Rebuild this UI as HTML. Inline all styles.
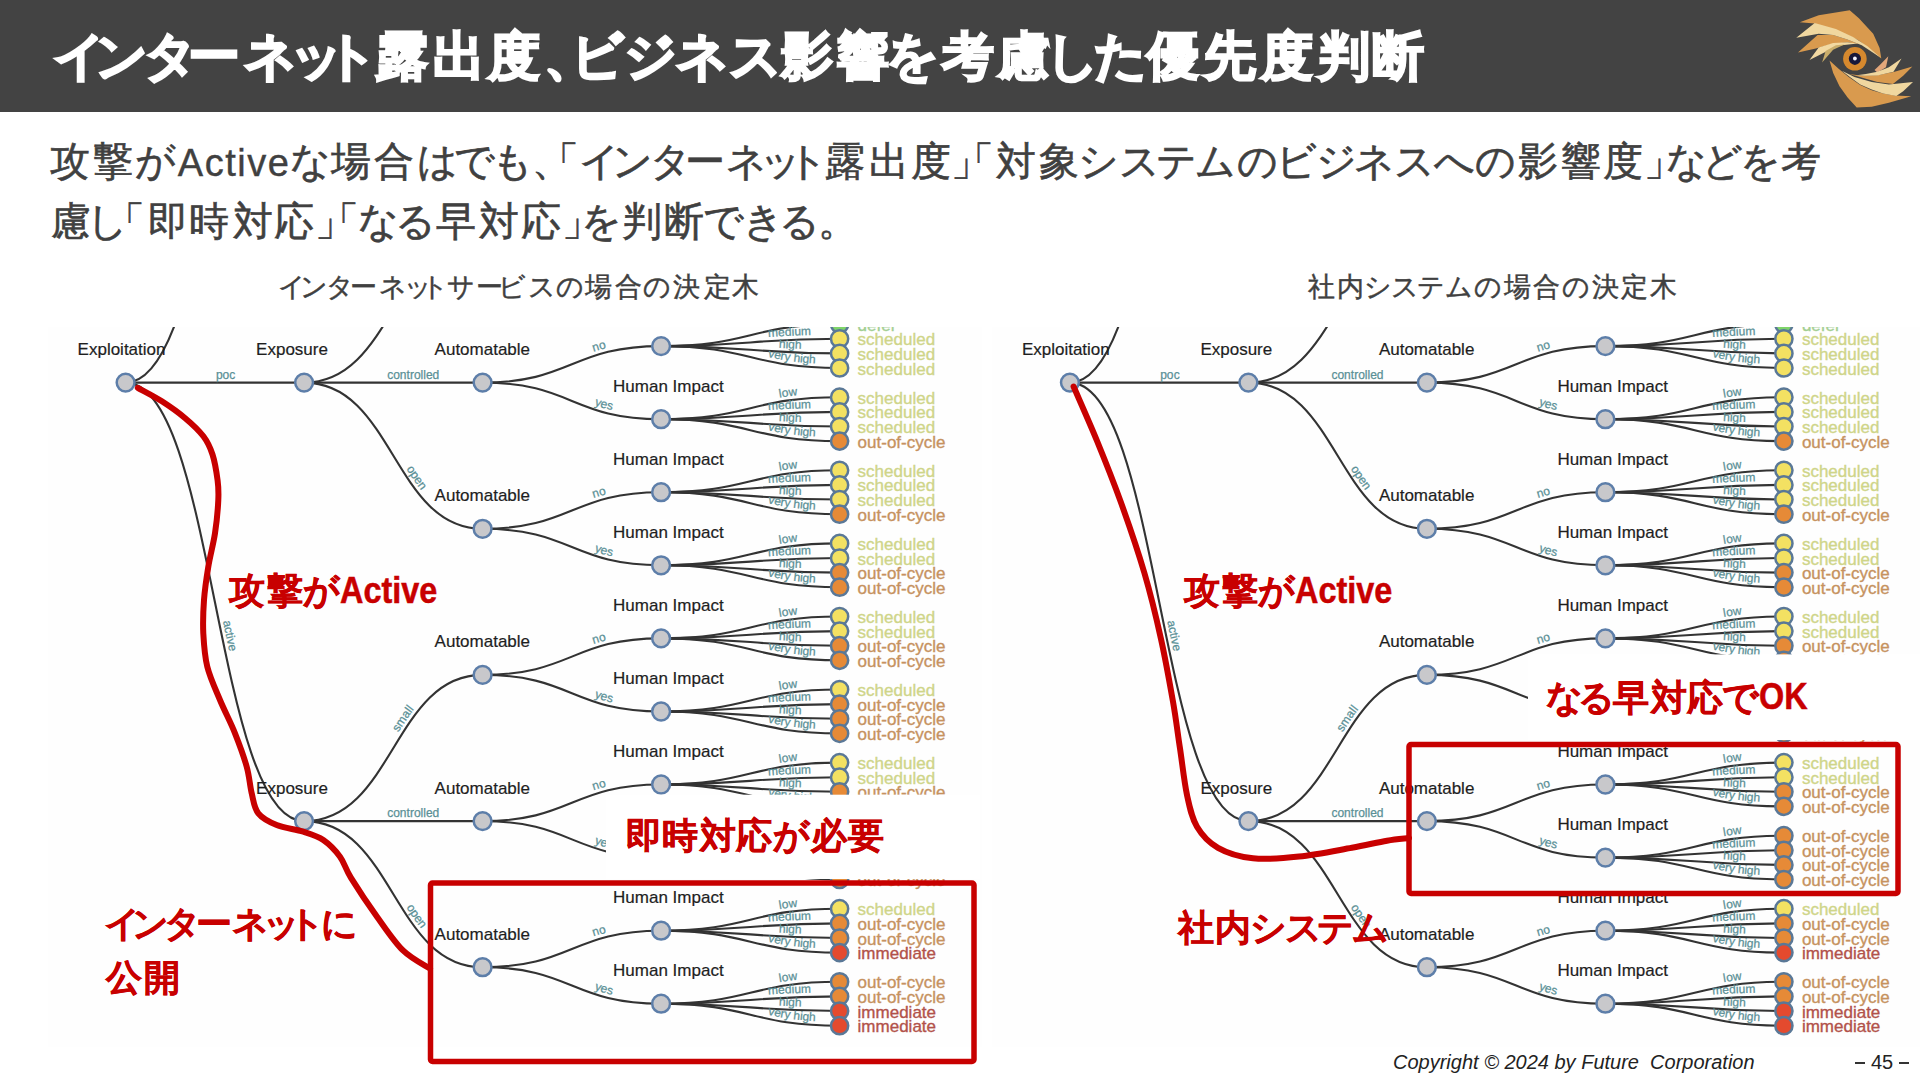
<!DOCTYPE html>
<html lang="ja"><head><meta charset="utf-8">
<style>
html,body{margin:0;padding:0}
body{width:1920px;height:1080px;overflow:hidden;position:relative;background:#fff;font-family:"Liberation Sans",sans-serif}
.hdr{position:absolute;left:0;top:0;width:1920px;height:112px;background:#434343}
.t,.c{position:absolute;white-space:nowrap;line-height:1}
.w{color:#fff}
.g{color:#404040}
.r{color:#c80000}
.foot{font-size:20px;font-style:italic;color:#222}
.dash{position:absolute;top:1062px;width:10px;height:1.6px;background:#333}
</style></head><body>
<div class="hdr"></div>
<span class="c w" style="left:52.7px;top:30.2px;font-size:52px;font-weight:bold;-webkit-text-stroke:2.2px;">イ</span>
<span class="c w" style="left:94.6px;top:30.2px;font-size:52px;font-weight:bold;-webkit-text-stroke:2.2px;">ン</span>
<span class="c w" style="left:143.7px;top:30.2px;font-size:52px;font-weight:bold;-webkit-text-stroke:2.2px;">タ</span>
<span class="c w" style="left:188.1px;top:30.2px;font-size:52px;font-weight:bold;-webkit-text-stroke:2.2px;">ー</span>
<span class="c w" style="left:244.0px;top:30.2px;font-size:52px;font-weight:bold;-webkit-text-stroke:2.2px;">ネ</span>
<span class="c w" style="left:290.4px;top:30.2px;font-size:52px;font-weight:bold;-webkit-text-stroke:2.2px;">ッ</span>
<span class="c w" style="left:324.5px;top:30.2px;font-size:52px;font-weight:bold;-webkit-text-stroke:2.2px;">ト</span>
<span class="c w" style="left:376.2px;top:30.2px;font-size:52px;font-weight:bold;-webkit-text-stroke:2.2px;">露</span>
<span class="c w" style="left:432.9px;top:30.2px;font-size:52px;font-weight:bold;-webkit-text-stroke:2.2px;">出</span>
<span class="c w" style="left:487.7px;top:30.2px;font-size:52px;font-weight:bold;-webkit-text-stroke:2.2px;">度</span>
<span class="c w" style="left:543.8px;top:30.2px;font-size:52px;font-weight:bold;-webkit-text-stroke:2.2px;">、</span>
<span class="c w" style="left:570.9px;top:30.2px;font-size:52px;font-weight:bold;-webkit-text-stroke:2.2px;">ビ</span>
<span class="c w" style="left:623.5px;top:30.2px;font-size:52px;font-weight:bold;-webkit-text-stroke:2.2px;">ジ</span>
<span class="c w" style="left:675.7px;top:30.2px;font-size:52px;font-weight:bold;-webkit-text-stroke:2.2px;">ネ</span>
<span class="c w" style="left:728.9px;top:30.2px;font-size:52px;font-weight:bold;-webkit-text-stroke:2.2px;">ス</span>
<span class="c w" style="left:781.2px;top:30.2px;font-size:52px;font-weight:bold;-webkit-text-stroke:2.2px;">影</span>
<span class="c w" style="left:837.0px;top:30.2px;font-size:52px;font-weight:bold;-webkit-text-stroke:2.2px;">響</span>
<span class="c w" style="left:886.2px;top:30.2px;font-size:52px;font-weight:bold;-webkit-text-stroke:2.2px;">を</span>
<span class="c w" style="left:941.6px;top:30.2px;font-size:52px;font-weight:bold;-webkit-text-stroke:2.2px;">考</span>
<span class="c w" style="left:998.1px;top:30.2px;font-size:52px;font-weight:bold;-webkit-text-stroke:2.2px;">慮</span>
<span class="c w" style="left:1045.8px;top:30.2px;font-size:52px;font-weight:bold;-webkit-text-stroke:2.2px;">し</span>
<span class="c w" style="left:1093.8px;top:30.2px;font-size:52px;font-weight:bold;-webkit-text-stroke:2.2px;">た</span>
<span class="c w" style="left:1146.9px;top:30.2px;font-size:52px;font-weight:bold;-webkit-text-stroke:2.2px;">優</span>
<span class="c w" style="left:1203.9px;top:30.2px;font-size:52px;font-weight:bold;-webkit-text-stroke:2.2px;">先</span>
<span class="c w" style="left:1260.7px;top:30.2px;font-size:52px;font-weight:bold;-webkit-text-stroke:2.2px;">度</span>
<span class="c w" style="left:1317.8px;top:30.2px;font-size:52px;font-weight:bold;-webkit-text-stroke:2.2px;">判</span>
<span class="c w" style="left:1372.1px;top:30.2px;font-size:52px;font-weight:bold;-webkit-text-stroke:2.2px;">断</span>
<span class="c g" style="left:50.1px;top:140.8px;font-size:40px;-webkit-text-stroke:0.6px;">攻</span>
<span class="c g" style="left:92.9px;top:140.8px;font-size:40px;-webkit-text-stroke:0.6px;">撃</span>
<span class="c g" style="left:134.6px;top:140.8px;font-size:40px;-webkit-text-stroke:0.6px;">が</span>
<span class="c g" style="left:290.2px;top:140.8px;font-size:40px;-webkit-text-stroke:0.6px;">な</span>
<span class="c g" style="left:330.9px;top:140.8px;font-size:40px;-webkit-text-stroke:0.6px;">場</span>
<span class="c g" style="left:373.9px;top:140.8px;font-size:40px;-webkit-text-stroke:0.6px;">合</span>
<span class="c g" style="left:417.2px;top:140.8px;font-size:40px;-webkit-text-stroke:0.6px;">は</span>
<span class="c g" style="left:454.0px;top:140.8px;font-size:40px;-webkit-text-stroke:0.6px;">で</span>
<span class="c g" style="left:492.4px;top:140.8px;font-size:40px;-webkit-text-stroke:0.6px;">も</span>
<span class="c g" style="left:531.5px;top:140.8px;font-size:40px;-webkit-text-stroke:0.6px;">、</span>
<span class="c g" style="left:539.1px;top:140.8px;font-size:40px;-webkit-text-stroke:0.6px;">「</span>
<span class="c g" style="left:579.1px;top:140.8px;font-size:40px;-webkit-text-stroke:0.6px;">イ</span>
<span class="c g" style="left:612.2px;top:140.8px;font-size:40px;-webkit-text-stroke:0.6px;">ン</span>
<span class="c g" style="left:649.5px;top:140.8px;font-size:40px;-webkit-text-stroke:0.6px;">タ</span>
<span class="c g" style="left:684.7px;top:140.8px;font-size:40px;-webkit-text-stroke:0.6px;">ー</span>
<span class="c g" style="left:726.2px;top:140.8px;font-size:40px;-webkit-text-stroke:0.6px;">ネ</span>
<span class="c g" style="left:760.4px;top:140.8px;font-size:40px;-webkit-text-stroke:0.6px;">ッ</span>
<span class="c g" style="left:786.9px;top:140.8px;font-size:40px;-webkit-text-stroke:0.6px;">ト</span>
<span class="c g" style="left:825.3px;top:140.8px;font-size:40px;-webkit-text-stroke:0.6px;">露</span>
<span class="c g" style="left:869.4px;top:140.8px;font-size:40px;-webkit-text-stroke:0.6px;">出</span>
<span class="c g" style="left:910.6px;top:140.8px;font-size:40px;-webkit-text-stroke:0.6px;">度</span>
<span class="c g" style="left:951.0px;top:140.8px;font-size:40px;-webkit-text-stroke:0.6px;">」</span>
<span class="c g" style="left:954.1px;top:140.8px;font-size:40px;-webkit-text-stroke:0.6px;">「</span>
<span class="c g" style="left:996.4px;top:140.8px;font-size:40px;-webkit-text-stroke:0.6px;">対</span>
<span class="c g" style="left:1039.3px;top:140.8px;font-size:40px;-webkit-text-stroke:0.6px;">象</span>
<span class="c g" style="left:1078.2px;top:140.8px;font-size:40px;-webkit-text-stroke:0.6px;">シ</span>
<span class="c g" style="left:1118.7px;top:140.8px;font-size:40px;-webkit-text-stroke:0.6px;">ス</span>
<span class="c g" style="left:1155.9px;top:140.8px;font-size:40px;-webkit-text-stroke:0.6px;">テ</span>
<span class="c g" style="left:1195.3px;top:140.8px;font-size:40px;-webkit-text-stroke:0.6px;">ム</span>
<span class="c g" style="left:1237.0px;top:140.8px;font-size:40px;-webkit-text-stroke:0.6px;">の</span>
<span class="c g" style="left:1275.5px;top:140.8px;font-size:40px;-webkit-text-stroke:0.6px;">ビ</span>
<span class="c g" style="left:1315.8px;top:140.8px;font-size:40px;-webkit-text-stroke:0.6px;">ジ</span>
<span class="c g" style="left:1354.3px;top:140.8px;font-size:40px;-webkit-text-stroke:0.6px;">ネ</span>
<span class="c g" style="left:1393.5px;top:140.8px;font-size:40px;-webkit-text-stroke:0.6px;">ス</span>
<span class="c g" style="left:1433.5px;top:140.8px;font-size:40px;-webkit-text-stroke:0.6px;">へ</span>
<span class="c g" style="left:1475.2px;top:140.8px;font-size:40px;-webkit-text-stroke:0.6px;">の</span>
<span class="c g" style="left:1518.2px;top:140.8px;font-size:40px;-webkit-text-stroke:0.6px;">影</span>
<span class="c g" style="left:1560.8px;top:140.8px;font-size:40px;-webkit-text-stroke:0.6px;">響</span>
<span class="c g" style="left:1603.3px;top:140.8px;font-size:40px;-webkit-text-stroke:0.6px;">度</span>
<span class="c g" style="left:1644.2px;top:140.8px;font-size:40px;-webkit-text-stroke:0.6px;">」</span>
<span class="c g" style="left:1665.7px;top:140.8px;font-size:40px;-webkit-text-stroke:0.6px;">な</span>
<span class="c g" style="left:1701.7px;top:140.8px;font-size:40px;-webkit-text-stroke:0.6px;">ど</span>
<span class="c g" style="left:1740.1px;top:140.8px;font-size:40px;-webkit-text-stroke:0.6px;">を</span>
<span class="c g" style="left:1780.8px;top:140.8px;font-size:40px;-webkit-text-stroke:0.6px;">考</span>
<span class="c g" style="left:177.8px;top:143.8px;font-size:38px;letter-spacing:1.5px;-webkit-text-stroke:0.4px;">Active</span>
<span class="c g" style="left:50.5px;top:201.0px;font-size:40px;-webkit-text-stroke:0.6px;">慮</span>
<span class="c g" style="left:87.3px;top:201.0px;font-size:40px;-webkit-text-stroke:0.6px;">し</span>
<span class="c g" style="left:105.2px;top:201.0px;font-size:40px;-webkit-text-stroke:0.6px;">「</span>
<span class="c g" style="left:147.5px;top:201.0px;font-size:40px;-webkit-text-stroke:0.6px;">即</span>
<span class="c g" style="left:189.4px;top:201.0px;font-size:40px;-webkit-text-stroke:0.6px;">時</span>
<span class="c g" style="left:232.9px;top:201.0px;font-size:40px;-webkit-text-stroke:0.6px;">対</span>
<span class="c g" style="left:274.2px;top:201.0px;font-size:40px;-webkit-text-stroke:0.6px;">応</span>
<span class="c g" style="left:315.4px;top:201.0px;font-size:40px;-webkit-text-stroke:0.6px;">」</span>
<span class="c g" style="left:318.6px;top:201.0px;font-size:40px;-webkit-text-stroke:0.6px;">「</span>
<span class="c g" style="left:358.1px;top:201.0px;font-size:40px;-webkit-text-stroke:0.6px;">な</span>
<span class="c g" style="left:395.1px;top:201.0px;font-size:40px;-webkit-text-stroke:0.6px;">る</span>
<span class="c g" style="left:436.1px;top:201.0px;font-size:40px;-webkit-text-stroke:0.6px;">早</span>
<span class="c g" style="left:479.1px;top:201.0px;font-size:40px;-webkit-text-stroke:0.6px;">対</span>
<span class="c g" style="left:520.5px;top:201.0px;font-size:40px;-webkit-text-stroke:0.6px;">応</span>
<span class="c g" style="left:561.6px;top:201.0px;font-size:40px;-webkit-text-stroke:0.6px;">」</span>
<span class="c g" style="left:581.0px;top:201.0px;font-size:40px;-webkit-text-stroke:0.6px;">を</span>
<span class="c g" style="left:621.5px;top:201.0px;font-size:40px;-webkit-text-stroke:0.6px;">判</span>
<span class="c g" style="left:664.2px;top:201.0px;font-size:40px;-webkit-text-stroke:0.6px;">断</span>
<span class="c g" style="left:703.0px;top:201.0px;font-size:40px;-webkit-text-stroke:0.6px;">で</span>
<span class="c g" style="left:742.7px;top:201.0px;font-size:40px;-webkit-text-stroke:0.6px;">き</span>
<span class="c g" style="left:778.7px;top:201.0px;font-size:40px;-webkit-text-stroke:0.6px;">る</span>
<span class="c g" style="left:818.3px;top:201.0px;font-size:40px;-webkit-text-stroke:0.6px;">。</span>
<span class="c g" style="left:277.8px;top:273.9px;font-size:27px;-webkit-text-stroke:0.45px;">イ</span>
<span class="c g" style="left:300.4px;top:273.9px;font-size:27px;-webkit-text-stroke:0.45px;">ン</span>
<span class="c g" style="left:325.5px;top:273.9px;font-size:27px;-webkit-text-stroke:0.45px;">タ</span>
<span class="c g" style="left:350.0px;top:273.9px;font-size:27px;-webkit-text-stroke:0.45px;">ー</span>
<span class="c g" style="left:378.6px;top:273.9px;font-size:27px;-webkit-text-stroke:0.45px;">ネ</span>
<span class="c g" style="left:403.8px;top:273.9px;font-size:27px;-webkit-text-stroke:0.45px;">ッ</span>
<span class="c g" style="left:421.3px;top:273.9px;font-size:27px;-webkit-text-stroke:0.45px;">ト</span>
<span class="c g" style="left:447.0px;top:273.9px;font-size:27px;-webkit-text-stroke:0.45px;">サ</span>
<span class="c g" style="left:475.5px;top:273.9px;font-size:27px;-webkit-text-stroke:0.45px;">ー</span>
<span class="c g" style="left:498.1px;top:273.9px;font-size:27px;-webkit-text-stroke:0.45px;">ビ</span>
<span class="c g" style="left:528.0px;top:273.9px;font-size:27px;-webkit-text-stroke:0.45px;">ス</span>
<span class="c g" style="left:555.5px;top:273.9px;font-size:27px;-webkit-text-stroke:0.45px;">の</span>
<span class="c g" style="left:585.0px;top:273.9px;font-size:27px;-webkit-text-stroke:0.45px;">場</span>
<span class="c g" style="left:615.0px;top:273.9px;font-size:27px;-webkit-text-stroke:0.45px;">合</span>
<span class="c g" style="left:643.4px;top:273.9px;font-size:27px;-webkit-text-stroke:0.45px;">の</span>
<span class="c g" style="left:673.2px;top:273.9px;font-size:27px;-webkit-text-stroke:0.45px;">決</span>
<span class="c g" style="left:704.0px;top:273.9px;font-size:27px;-webkit-text-stroke:0.45px;">定</span>
<span class="c g" style="left:731.9px;top:273.9px;font-size:27px;-webkit-text-stroke:0.45px;">木</span>
<span class="c g" style="left:1307.8px;top:273.7px;font-size:27px;-webkit-text-stroke:0.45px;">社</span>
<span class="c g" style="left:1337.0px;top:273.7px;font-size:27px;-webkit-text-stroke:0.45px;">内</span>
<span class="c g" style="left:1364.4px;top:273.7px;font-size:27px;-webkit-text-stroke:0.45px;">シ</span>
<span class="c g" style="left:1391.4px;top:273.7px;font-size:27px;-webkit-text-stroke:0.45px;">ス</span>
<span class="c g" style="left:1417.2px;top:273.7px;font-size:27px;-webkit-text-stroke:0.45px;">テ</span>
<span class="c g" style="left:1444.5px;top:273.7px;font-size:27px;-webkit-text-stroke:0.45px;">ム</span>
<span class="c g" style="left:1474.2px;top:273.7px;font-size:27px;-webkit-text-stroke:0.45px;">の</span>
<span class="c g" style="left:1503.5px;top:273.7px;font-size:27px;-webkit-text-stroke:0.45px;">場</span>
<span class="c g" style="left:1533.0px;top:273.7px;font-size:27px;-webkit-text-stroke:0.45px;">合</span>
<span class="c g" style="left:1561.5px;top:273.7px;font-size:27px;-webkit-text-stroke:0.45px;">の</span>
<span class="c g" style="left:1591.5px;top:273.7px;font-size:27px;-webkit-text-stroke:0.45px;">決</span>
<span class="c g" style="left:1621.2px;top:273.7px;font-size:27px;-webkit-text-stroke:0.45px;">定</span>
<span class="c g" style="left:1649.7px;top:273.7px;font-size:27px;-webkit-text-stroke:0.45px;">木</span>
<svg width="140" height="112" viewBox="1780 0 140 112" style="position:absolute;left:1780px;top:0">
<polygon fill="#d99a4e" points="1799.8,22.2 1818.7,15.3 1849.7,10.2 1858.9,18.2 1873.2,33.7 1879.6,48.1 1881.3,58.4 1870.4,49.8 1858.9,40.6 1847.4,34.9 1835.9,30.3 1824.4,26.8 1814.7,23.4"/>
<polygon fill="#d99a4e" points="1798.0,52.6 1817.6,34.9 1833.1,34.9 1847.4,39.4 1858.9,44.0 1847.4,42.3 1830.2,44.6 1815.8,48.6"/>
<polygon fill="#f0d79f" points="1796.3,37.7 1814.7,23.1 1835.9,29.1 1853.1,37.1 1867.5,46.3 1880.7,57.8 1861.8,45.2 1847.4,39.4 1833.1,34.9 1818.7,33.7"/>
<polygon fill="#f2d9a2" points="1809.5,60.1 1818.7,47.5 1833.1,42.9 1847.4,42.3 1857.7,43.5 1841.7,45.2 1827.3,50.9"/>
<polygon fill="#c9ad6a" points="1822.1,62.4 1825.6,50.9 1835.9,45.2 1844.5,44.6 1833.1,49.8"/>
<polygon fill="#d99a4e" points="1829.5,60.6 1833.2,73.0 1839.5,86.2 1847.6,97.6 1856.7,107.4 1871.7,106.8 1888.9,102.8 1911.3,96.2 1894.6,95.4 1883.1,93.6 1871.7,90.2 1860.2,85.0 1848.7,77.0 1838.9,68.9"/>
<polygon fill="#d99a4e" points="1848.7,74.1 1860.2,75.5 1877.4,75.3 1894.6,71.8 1912.4,66.6 1903.2,75.8 1892.9,83.9 1877.4,82.1 1865.9,78.7 1855.6,75.8"/>
<polygon fill="#e3a77a" points="1874.5,70.1 1880.3,64.4 1888.3,56.3 1886.0,67.2 1877.4,72.4"/>
<polygon fill="#f0d79f" points="1856.7,75.3 1865.9,74.1 1877.4,71.8 1888.9,67.2 1901.5,58.6 1893.5,71.8 1877.4,75.5 1864.8,75.8"/>
<polygon fill="#f0d79f" points="1841.8,70.7 1854.4,77.0 1871.7,82.1 1888.9,84.4 1913.0,82.1 1903.2,91.3 1896.3,95.9 1883.1,93.6 1871.7,89.6 1860.2,84.4 1849.9,77.0"/>
<circle cx="1854.9" cy="58.8" r="11.8" fill="#d6892e"/>
<circle cx="1854.9" cy="58.8" r="6.1" fill="#17183a"/>
<circle cx="1854.9" cy="58.5" r="1.9" fill="#f4f4ff"/>
</svg>
<svg width="1920" height="1080" viewBox="0 0 1920 1080" style="position:absolute;left:0;top:0">
<rect x="48" y="327" width="934" height="720" fill="#fefefe"/>
<rect x="992" y="327" width="928" height="720" fill="#fefefe"/>
<clipPath id="cl"><rect x="48.0" y="327.0" width="932.0" height="730.0"/></clipPath>
<g clip-path="url(#cl)">
<g fill="none" stroke="#333" stroke-width="2.1">
<path d="M125.6,382.6C214.9,382.6 214.9,-55.8 304.1,-55.8"/>
<path d="M304.1,-55.8C393.4,-55.8 393.4,-201.9 482.6,-201.9"/>
<path d="M482.6,-201.9C571.9,-201.9 571.9,-238.5 661.1,-238.5"/>
<path d="M661.1,-238.5C750.4,-238.5 750.4,-260.4 839.6,-260.4"/>
<path d="M661.1,-238.5C750.4,-238.5 750.4,-245.8 839.6,-245.8"/>
<path d="M661.1,-238.5C750.4,-238.5 750.4,-231.2 839.6,-231.2"/>
<path d="M661.1,-238.5C750.4,-238.5 750.4,-216.5 839.6,-216.5"/>
<path d="M482.6,-201.9C571.9,-201.9 571.9,-165.4 661.1,-165.4"/>
<path d="M661.1,-165.4C750.4,-165.4 750.4,-187.3 839.6,-187.3"/>
<path d="M661.1,-165.4C750.4,-165.4 750.4,-172.7 839.6,-172.7"/>
<path d="M661.1,-165.4C750.4,-165.4 750.4,-158.1 839.6,-158.1"/>
<path d="M661.1,-165.4C750.4,-165.4 750.4,-143.5 839.6,-143.5"/>
<path d="M304.1,-55.8C393.4,-55.8 393.4,-55.8 482.6,-55.8"/>
<path d="M482.6,-55.8C571.9,-55.8 571.9,-92.3 661.1,-92.3"/>
<path d="M661.1,-92.3C750.4,-92.3 750.4,-114.2 839.6,-114.2"/>
<path d="M661.1,-92.3C750.4,-92.3 750.4,-99.6 839.6,-99.6"/>
<path d="M661.1,-92.3C750.4,-92.3 750.4,-85.0 839.6,-85.0"/>
<path d="M661.1,-92.3C750.4,-92.3 750.4,-70.4 839.6,-70.4"/>
<path d="M482.6,-55.8C571.9,-55.8 571.9,-19.2 661.1,-19.2"/>
<path d="M661.1,-19.2C750.4,-19.2 750.4,-41.2 839.6,-41.2"/>
<path d="M661.1,-19.2C750.4,-19.2 750.4,-26.6 839.6,-26.6"/>
<path d="M661.1,-19.2C750.4,-19.2 750.4,-11.9 839.6,-11.9"/>
<path d="M661.1,-19.2C750.4,-19.2 750.4,2.7 839.6,2.7"/>
<path d="M304.1,-55.8C393.4,-55.8 393.4,90.4 482.6,90.4"/>
<path d="M482.6,90.4C571.9,90.4 571.9,53.8 661.1,53.8"/>
<path d="M661.1,53.8C750.4,53.8 750.4,31.9 839.6,31.9"/>
<path d="M661.1,53.8C750.4,53.8 750.4,46.5 839.6,46.5"/>
<path d="M661.1,53.8C750.4,53.8 750.4,61.1 839.6,61.1"/>
<path d="M661.1,53.8C750.4,53.8 750.4,75.7 839.6,75.7"/>
<path d="M482.6,90.4C571.9,90.4 571.9,126.9 661.1,126.9"/>
<path d="M661.1,126.9C750.4,126.9 750.4,105.0 839.6,105.0"/>
<path d="M661.1,126.9C750.4,126.9 750.4,119.6 839.6,119.6"/>
<path d="M661.1,126.9C750.4,126.9 750.4,134.2 839.6,134.2"/>
<path d="M661.1,126.9C750.4,126.9 750.4,148.8 839.6,148.8"/>
<path d="M125.6,382.6C214.9,382.6 214.9,382.6 304.1,382.6"/>
<path d="M304.1,382.6C393.4,382.6 393.4,236.5 482.6,236.5"/>
<path d="M482.6,236.5C571.9,236.5 571.9,200.0 661.1,200.0"/>
<path d="M661.1,200.0C750.4,200.0 750.4,178.0 839.6,178.0"/>
<path d="M661.1,200.0C750.4,200.0 750.4,192.7 839.6,192.7"/>
<path d="M661.1,200.0C750.4,200.0 750.4,207.3 839.6,207.3"/>
<path d="M661.1,200.0C750.4,200.0 750.4,221.9 839.6,221.9"/>
<path d="M482.6,236.5C571.9,236.5 571.9,273.0 661.1,273.0"/>
<path d="M661.1,273.0C750.4,273.0 750.4,251.1 839.6,251.1"/>
<path d="M661.1,273.0C750.4,273.0 750.4,265.7 839.6,265.7"/>
<path d="M661.1,273.0C750.4,273.0 750.4,280.3 839.6,280.3"/>
<path d="M661.1,273.0C750.4,273.0 750.4,295.0 839.6,295.0"/>
<path d="M304.1,382.6C393.4,382.6 393.4,382.6 482.6,382.6"/>
<path d="M482.6,382.6C571.9,382.6 571.9,346.1 661.1,346.1"/>
<path d="M661.1,346.1C750.4,346.1 750.4,324.2 839.6,324.2"/>
<path d="M661.1,346.1C750.4,346.1 750.4,338.8 839.6,338.8"/>
<path d="M661.1,346.1C750.4,346.1 750.4,353.4 839.6,353.4"/>
<path d="M661.1,346.1C750.4,346.1 750.4,368.0 839.6,368.0"/>
<path d="M482.6,382.6C571.9,382.6 571.9,419.2 661.1,419.2"/>
<path d="M661.1,419.2C750.4,419.2 750.4,397.2 839.6,397.2"/>
<path d="M661.1,419.2C750.4,419.2 750.4,411.9 839.6,411.9"/>
<path d="M661.1,419.2C750.4,419.2 750.4,426.5 839.6,426.5"/>
<path d="M661.1,419.2C750.4,419.2 750.4,441.1 839.6,441.1"/>
<path d="M304.1,382.6C393.4,382.6 393.4,528.8 482.6,528.8"/>
<path d="M482.6,528.8C571.9,528.8 571.9,492.2 661.1,492.2"/>
<path d="M661.1,492.2C750.4,492.2 750.4,470.3 839.6,470.3"/>
<path d="M661.1,492.2C750.4,492.2 750.4,484.9 839.6,484.9"/>
<path d="M661.1,492.2C750.4,492.2 750.4,499.5 839.6,499.5"/>
<path d="M661.1,492.2C750.4,492.2 750.4,514.2 839.6,514.2"/>
<path d="M482.6,528.8C571.9,528.8 571.9,565.3 661.1,565.3"/>
<path d="M661.1,565.3C750.4,565.3 750.4,543.4 839.6,543.4"/>
<path d="M661.1,565.3C750.4,565.3 750.4,558.0 839.6,558.0"/>
<path d="M661.1,565.3C750.4,565.3 750.4,572.6 839.6,572.6"/>
<path d="M661.1,565.3C750.4,565.3 750.4,587.2 839.6,587.2"/>
<path d="M125.6,382.6C214.9,382.6 214.9,821.1 304.1,821.1"/>
<path d="M304.1,821.1C393.4,821.1 393.4,674.9 482.6,674.9"/>
<path d="M482.6,674.9C571.9,674.9 571.9,638.4 661.1,638.4"/>
<path d="M661.1,638.4C750.4,638.4 750.4,616.5 839.6,616.5"/>
<path d="M661.1,638.4C750.4,638.4 750.4,631.1 839.6,631.1"/>
<path d="M661.1,638.4C750.4,638.4 750.4,645.7 839.6,645.7"/>
<path d="M661.1,638.4C750.4,638.4 750.4,660.3 839.6,660.3"/>
<path d="M482.6,674.9C571.9,674.9 571.9,711.5 661.1,711.5"/>
<path d="M661.1,711.5C750.4,711.5 750.4,689.5 839.6,689.5"/>
<path d="M661.1,711.5C750.4,711.5 750.4,704.1 839.6,704.1"/>
<path d="M661.1,711.5C750.4,711.5 750.4,718.8 839.6,718.8"/>
<path d="M661.1,711.5C750.4,711.5 750.4,733.4 839.6,733.4"/>
<path d="M304.1,821.1C393.4,821.1 393.4,821.1 482.6,821.1"/>
<path d="M482.6,821.1C571.9,821.1 571.9,784.5 661.1,784.5"/>
<path d="M661.1,784.5C750.4,784.5 750.4,762.6 839.6,762.6"/>
<path d="M661.1,784.5C750.4,784.5 750.4,777.2 839.6,777.2"/>
<path d="M661.1,784.5C750.4,784.5 750.4,791.8 839.6,791.8"/>
<path d="M661.1,784.5C750.4,784.5 750.4,806.4 839.6,806.4"/>
<path d="M482.6,821.1C571.9,821.1 571.9,857.6 661.1,857.6"/>
<path d="M661.1,857.6C750.4,857.6 750.4,835.7 839.6,835.7"/>
<path d="M661.1,857.6C750.4,857.6 750.4,850.3 839.6,850.3"/>
<path d="M661.1,857.6C750.4,857.6 750.4,864.9 839.6,864.9"/>
<path d="M661.1,857.6C750.4,857.6 750.4,879.5 839.6,879.5"/>
<path d="M304.1,821.1C393.4,821.1 393.4,967.2 482.6,967.2"/>
<path d="M482.6,967.2C571.9,967.2 571.9,930.7 661.1,930.7"/>
<path d="M661.1,930.7C750.4,930.7 750.4,908.7 839.6,908.7"/>
<path d="M661.1,930.7C750.4,930.7 750.4,923.4 839.6,923.4"/>
<path d="M661.1,930.7C750.4,930.7 750.4,938.0 839.6,938.0"/>
<path d="M661.1,930.7C750.4,930.7 750.4,952.6 839.6,952.6"/>
<path d="M482.6,967.2C571.9,967.2 571.9,1003.7 661.1,1003.7"/>
<path d="M661.1,1003.7C750.4,1003.7 750.4,981.8 839.6,981.8"/>
<path d="M661.1,1003.7C750.4,1003.7 750.4,996.4 839.6,996.4"/>
<path d="M661.1,1003.7C750.4,1003.7 750.4,1011.0 839.6,1011.0"/>
<path d="M661.1,1003.7C750.4,1003.7 750.4,1025.7 839.6,1025.7"/>
</g>
<defs>
<path id="p1" d="M304.1,-55.8C393.4,-55.8 393.4,-201.9 482.6,-201.9"/>
<path id="p2" d="M482.6,-201.9C571.9,-201.9 571.9,-238.5 661.1,-238.5"/>
<path id="p3" d="M661.1,-238.5C750.4,-238.5 750.4,-260.4 839.6,-260.4"/>
<path id="p4" d="M661.1,-238.5C750.4,-238.5 750.4,-245.8 839.6,-245.8"/>
<path id="p5" d="M661.1,-238.5C750.4,-238.5 750.4,-231.2 839.6,-231.2"/>
<path id="p6" d="M661.1,-238.5C750.4,-238.5 750.4,-216.5 839.6,-216.5"/>
<path id="p7" d="M482.6,-201.9C571.9,-201.9 571.9,-165.4 661.1,-165.4"/>
<path id="p8" d="M661.1,-165.4C750.4,-165.4 750.4,-187.3 839.6,-187.3"/>
<path id="p9" d="M661.1,-165.4C750.4,-165.4 750.4,-172.7 839.6,-172.7"/>
<path id="p10" d="M661.1,-165.4C750.4,-165.4 750.4,-158.1 839.6,-158.1"/>
<path id="p11" d="M661.1,-165.4C750.4,-165.4 750.4,-143.5 839.6,-143.5"/>
<path id="p12" d="M304.1,-55.8C393.4,-55.8 393.4,-55.8 482.6,-55.8"/>
<path id="p13" d="M482.6,-55.8C571.9,-55.8 571.9,-92.3 661.1,-92.3"/>
<path id="p14" d="M661.1,-92.3C750.4,-92.3 750.4,-114.2 839.6,-114.2"/>
<path id="p15" d="M661.1,-92.3C750.4,-92.3 750.4,-99.6 839.6,-99.6"/>
<path id="p16" d="M661.1,-92.3C750.4,-92.3 750.4,-85.0 839.6,-85.0"/>
<path id="p17" d="M661.1,-92.3C750.4,-92.3 750.4,-70.4 839.6,-70.4"/>
<path id="p18" d="M482.6,-55.8C571.9,-55.8 571.9,-19.2 661.1,-19.2"/>
<path id="p19" d="M661.1,-19.2C750.4,-19.2 750.4,-41.2 839.6,-41.2"/>
<path id="p20" d="M661.1,-19.2C750.4,-19.2 750.4,-26.6 839.6,-26.6"/>
<path id="p21" d="M661.1,-19.2C750.4,-19.2 750.4,-11.9 839.6,-11.9"/>
<path id="p22" d="M661.1,-19.2C750.4,-19.2 750.4,2.7 839.6,2.7"/>
<path id="p23" d="M304.1,-55.8C393.4,-55.8 393.4,90.4 482.6,90.4"/>
<path id="p24" d="M482.6,90.4C571.9,90.4 571.9,53.8 661.1,53.8"/>
<path id="p25" d="M661.1,53.8C750.4,53.8 750.4,31.9 839.6,31.9"/>
<path id="p26" d="M661.1,53.8C750.4,53.8 750.4,46.5 839.6,46.5"/>
<path id="p27" d="M661.1,53.8C750.4,53.8 750.4,61.1 839.6,61.1"/>
<path id="p28" d="M661.1,53.8C750.4,53.8 750.4,75.7 839.6,75.7"/>
<path id="p29" d="M482.6,90.4C571.9,90.4 571.9,126.9 661.1,126.9"/>
<path id="p30" d="M661.1,126.9C750.4,126.9 750.4,105.0 839.6,105.0"/>
<path id="p31" d="M661.1,126.9C750.4,126.9 750.4,119.6 839.6,119.6"/>
<path id="p32" d="M661.1,126.9C750.4,126.9 750.4,134.2 839.6,134.2"/>
<path id="p33" d="M661.1,126.9C750.4,126.9 750.4,148.8 839.6,148.8"/>
<path id="p34" d="M125.6,382.6C214.9,382.6 214.9,382.6 304.1,382.6"/>
<path id="p35" d="M304.1,382.6C393.4,382.6 393.4,236.5 482.6,236.5"/>
<path id="p36" d="M482.6,236.5C571.9,236.5 571.9,200.0 661.1,200.0"/>
<path id="p37" d="M661.1,200.0C750.4,200.0 750.4,178.0 839.6,178.0"/>
<path id="p38" d="M661.1,200.0C750.4,200.0 750.4,192.7 839.6,192.7"/>
<path id="p39" d="M661.1,200.0C750.4,200.0 750.4,207.3 839.6,207.3"/>
<path id="p40" d="M661.1,200.0C750.4,200.0 750.4,221.9 839.6,221.9"/>
<path id="p41" d="M482.6,236.5C571.9,236.5 571.9,273.0 661.1,273.0"/>
<path id="p42" d="M661.1,273.0C750.4,273.0 750.4,251.1 839.6,251.1"/>
<path id="p43" d="M661.1,273.0C750.4,273.0 750.4,265.7 839.6,265.7"/>
<path id="p44" d="M661.1,273.0C750.4,273.0 750.4,280.3 839.6,280.3"/>
<path id="p45" d="M661.1,273.0C750.4,273.0 750.4,295.0 839.6,295.0"/>
<path id="p46" d="M304.1,382.6C393.4,382.6 393.4,382.6 482.6,382.6"/>
<path id="p47" d="M482.6,382.6C571.9,382.6 571.9,346.1 661.1,346.1"/>
<path id="p48" d="M661.1,346.1C750.4,346.1 750.4,324.2 839.6,324.2"/>
<path id="p49" d="M661.1,346.1C750.4,346.1 750.4,338.8 839.6,338.8"/>
<path id="p50" d="M661.1,346.1C750.4,346.1 750.4,353.4 839.6,353.4"/>
<path id="p51" d="M661.1,346.1C750.4,346.1 750.4,368.0 839.6,368.0"/>
<path id="p52" d="M482.6,382.6C571.9,382.6 571.9,419.2 661.1,419.2"/>
<path id="p53" d="M661.1,419.2C750.4,419.2 750.4,397.2 839.6,397.2"/>
<path id="p54" d="M661.1,419.2C750.4,419.2 750.4,411.9 839.6,411.9"/>
<path id="p55" d="M661.1,419.2C750.4,419.2 750.4,426.5 839.6,426.5"/>
<path id="p56" d="M661.1,419.2C750.4,419.2 750.4,441.1 839.6,441.1"/>
<path id="p57" d="M304.1,382.6C393.4,382.6 393.4,528.8 482.6,528.8"/>
<path id="p58" d="M482.6,528.8C571.9,528.8 571.9,492.2 661.1,492.2"/>
<path id="p59" d="M661.1,492.2C750.4,492.2 750.4,470.3 839.6,470.3"/>
<path id="p60" d="M661.1,492.2C750.4,492.2 750.4,484.9 839.6,484.9"/>
<path id="p61" d="M661.1,492.2C750.4,492.2 750.4,499.5 839.6,499.5"/>
<path id="p62" d="M661.1,492.2C750.4,492.2 750.4,514.2 839.6,514.2"/>
<path id="p63" d="M482.6,528.8C571.9,528.8 571.9,565.3 661.1,565.3"/>
<path id="p64" d="M661.1,565.3C750.4,565.3 750.4,543.4 839.6,543.4"/>
<path id="p65" d="M661.1,565.3C750.4,565.3 750.4,558.0 839.6,558.0"/>
<path id="p66" d="M661.1,565.3C750.4,565.3 750.4,572.6 839.6,572.6"/>
<path id="p67" d="M661.1,565.3C750.4,565.3 750.4,587.2 839.6,587.2"/>
<path id="p68" d="M125.6,382.6C214.9,382.6 214.9,821.1 304.1,821.1"/>
<path id="p69" d="M304.1,821.1C393.4,821.1 393.4,674.9 482.6,674.9"/>
<path id="p70" d="M482.6,674.9C571.9,674.9 571.9,638.4 661.1,638.4"/>
<path id="p71" d="M661.1,638.4C750.4,638.4 750.4,616.5 839.6,616.5"/>
<path id="p72" d="M661.1,638.4C750.4,638.4 750.4,631.1 839.6,631.1"/>
<path id="p73" d="M661.1,638.4C750.4,638.4 750.4,645.7 839.6,645.7"/>
<path id="p74" d="M661.1,638.4C750.4,638.4 750.4,660.3 839.6,660.3"/>
<path id="p75" d="M482.6,674.9C571.9,674.9 571.9,711.5 661.1,711.5"/>
<path id="p76" d="M661.1,711.5C750.4,711.5 750.4,689.5 839.6,689.5"/>
<path id="p77" d="M661.1,711.5C750.4,711.5 750.4,704.1 839.6,704.1"/>
<path id="p78" d="M661.1,711.5C750.4,711.5 750.4,718.8 839.6,718.8"/>
<path id="p79" d="M661.1,711.5C750.4,711.5 750.4,733.4 839.6,733.4"/>
<path id="p80" d="M304.1,821.1C393.4,821.1 393.4,821.1 482.6,821.1"/>
<path id="p81" d="M482.6,821.1C571.9,821.1 571.9,784.5 661.1,784.5"/>
<path id="p82" d="M661.1,784.5C750.4,784.5 750.4,762.6 839.6,762.6"/>
<path id="p83" d="M661.1,784.5C750.4,784.5 750.4,777.2 839.6,777.2"/>
<path id="p84" d="M661.1,784.5C750.4,784.5 750.4,791.8 839.6,791.8"/>
<path id="p85" d="M661.1,784.5C750.4,784.5 750.4,806.4 839.6,806.4"/>
<path id="p86" d="M482.6,821.1C571.9,821.1 571.9,857.6 661.1,857.6"/>
<path id="p87" d="M661.1,857.6C750.4,857.6 750.4,835.7 839.6,835.7"/>
<path id="p88" d="M661.1,857.6C750.4,857.6 750.4,850.3 839.6,850.3"/>
<path id="p89" d="M661.1,857.6C750.4,857.6 750.4,864.9 839.6,864.9"/>
<path id="p90" d="M661.1,857.6C750.4,857.6 750.4,879.5 839.6,879.5"/>
<path id="p91" d="M304.1,821.1C393.4,821.1 393.4,967.2 482.6,967.2"/>
<path id="p92" d="M482.6,967.2C571.9,967.2 571.9,930.7 661.1,930.7"/>
<path id="p93" d="M661.1,930.7C750.4,930.7 750.4,908.7 839.6,908.7"/>
<path id="p94" d="M661.1,930.7C750.4,930.7 750.4,923.4 839.6,923.4"/>
<path id="p95" d="M661.1,930.7C750.4,930.7 750.4,938.0 839.6,938.0"/>
<path id="p96" d="M661.1,930.7C750.4,930.7 750.4,952.6 839.6,952.6"/>
<path id="p97" d="M482.6,967.2C571.9,967.2 571.9,1003.7 661.1,1003.7"/>
<path id="p98" d="M661.1,1003.7C750.4,1003.7 750.4,981.8 839.6,981.8"/>
<path id="p99" d="M661.1,1003.7C750.4,1003.7 750.4,996.4 839.6,996.4"/>
<path id="p100" d="M661.1,1003.7C750.4,1003.7 750.4,1011.0 839.6,1011.0"/>
<path id="p101" d="M661.1,1003.7C750.4,1003.7 750.4,1025.7 839.6,1025.7"/>
</defs>
<g font-family="Liberation Sans, sans-serif" font-size="12" fill="#5a9096" stroke="#5a9096" stroke-width="0.25">
<text dy="-4"><textPath href="#p1" startOffset="150.9" text-anchor="middle">small</textPath></text>
<text dy="-4"><textPath href="#p2" startOffset="123.1" text-anchor="middle">no</textPath></text>
<text dy="-4"><textPath href="#p3" startOffset="129.9" text-anchor="middle">low</textPath></text>
<text dy="-4"><textPath href="#p4" startOffset="129.1" text-anchor="middle">medium</textPath></text>
<text dy="-4"><textPath href="#p5" startOffset="129.1" text-anchor="middle">high</textPath></text>
<text dy="-4"><textPath href="#p6" startOffset="131.8" text-anchor="middle">very high</textPath></text>
<text dy="-4"><textPath href="#p7" startOffset="123.9" text-anchor="middle">yes</textPath></text>
<text dy="-4"><textPath href="#p8" startOffset="129.9" text-anchor="middle">low</textPath></text>
<text dy="-4"><textPath href="#p9" startOffset="129.1" text-anchor="middle">medium</textPath></text>
<text dy="-4"><textPath href="#p10" startOffset="129.1" text-anchor="middle">high</textPath></text>
<text dy="-4"><textPath href="#p11" startOffset="131.8" text-anchor="middle">very high</textPath></text>
<text dy="-4"><textPath href="#p12" startOffset="109.2" text-anchor="middle">controlled</textPath></text>
<text dy="-4"><textPath href="#p13" startOffset="123.1" text-anchor="middle">no</textPath></text>
<text dy="-4"><textPath href="#p14" startOffset="129.9" text-anchor="middle">low</textPath></text>
<text dy="-4"><textPath href="#p15" startOffset="129.1" text-anchor="middle">medium</textPath></text>
<text dy="-4"><textPath href="#p16" startOffset="129.1" text-anchor="middle">high</textPath></text>
<text dy="-4"><textPath href="#p17" startOffset="131.8" text-anchor="middle">very high</textPath></text>
<text dy="-4"><textPath href="#p18" startOffset="123.9" text-anchor="middle">yes</textPath></text>
<text dy="-4"><textPath href="#p19" startOffset="129.9" text-anchor="middle">low</textPath></text>
<text dy="-4"><textPath href="#p20" startOffset="129.1" text-anchor="middle">medium</textPath></text>
<text dy="-4"><textPath href="#p21" startOffset="129.1" text-anchor="middle">high</textPath></text>
<text dy="-4"><textPath href="#p22" startOffset="131.8" text-anchor="middle">very high</textPath></text>
<text dy="-4"><textPath href="#p23" startOffset="152.6" text-anchor="middle">open</textPath></text>
<text dy="-4"><textPath href="#p24" startOffset="123.1" text-anchor="middle">no</textPath></text>
<text dy="-4"><textPath href="#p25" startOffset="129.9" text-anchor="middle">low</textPath></text>
<text dy="-4"><textPath href="#p26" startOffset="129.1" text-anchor="middle">medium</textPath></text>
<text dy="-4"><textPath href="#p27" startOffset="129.1" text-anchor="middle">high</textPath></text>
<text dy="-4"><textPath href="#p28" startOffset="131.8" text-anchor="middle">very high</textPath></text>
<text dy="-4"><textPath href="#p29" startOffset="123.9" text-anchor="middle">yes</textPath></text>
<text dy="-4"><textPath href="#p30" startOffset="129.9" text-anchor="middle">low</textPath></text>
<text dy="-4"><textPath href="#p31" startOffset="129.1" text-anchor="middle">medium</textPath></text>
<text dy="-4"><textPath href="#p32" startOffset="129.1" text-anchor="middle">high</textPath></text>
<text dy="-4"><textPath href="#p33" startOffset="131.8" text-anchor="middle">very high</textPath></text>
<text dy="-4"><textPath href="#p34" startOffset="100.1" text-anchor="middle">poc</textPath></text>
<text dy="-4"><textPath href="#p35" startOffset="150.9" text-anchor="middle">small</textPath></text>
<text dy="-4"><textPath href="#p36" startOffset="123.1" text-anchor="middle">no</textPath></text>
<text dy="-4"><textPath href="#p37" startOffset="129.9" text-anchor="middle">low</textPath></text>
<text dy="-4"><textPath href="#p38" startOffset="129.1" text-anchor="middle">medium</textPath></text>
<text dy="-4"><textPath href="#p39" startOffset="129.1" text-anchor="middle">high</textPath></text>
<text dy="-4"><textPath href="#p40" startOffset="131.8" text-anchor="middle">very high</textPath></text>
<text dy="-4"><textPath href="#p41" startOffset="123.9" text-anchor="middle">yes</textPath></text>
<text dy="-4"><textPath href="#p42" startOffset="129.9" text-anchor="middle">low</textPath></text>
<text dy="-4"><textPath href="#p43" startOffset="129.1" text-anchor="middle">medium</textPath></text>
<text dy="-4"><textPath href="#p44" startOffset="129.1" text-anchor="middle">high</textPath></text>
<text dy="-4"><textPath href="#p45" startOffset="131.8" text-anchor="middle">very high</textPath></text>
<text dy="-4"><textPath href="#p46" startOffset="109.2" text-anchor="middle">controlled</textPath></text>
<text dy="-4"><textPath href="#p47" startOffset="123.1" text-anchor="middle">no</textPath></text>
<text dy="-4"><textPath href="#p48" startOffset="129.9" text-anchor="middle">low</textPath></text>
<text dy="-4"><textPath href="#p49" startOffset="129.1" text-anchor="middle">medium</textPath></text>
<text dy="-4"><textPath href="#p50" startOffset="129.1" text-anchor="middle">high</textPath></text>
<text dy="-4"><textPath href="#p51" startOffset="131.8" text-anchor="middle">very high</textPath></text>
<text dy="-4"><textPath href="#p52" startOffset="123.9" text-anchor="middle">yes</textPath></text>
<text dy="-4"><textPath href="#p53" startOffset="129.9" text-anchor="middle">low</textPath></text>
<text dy="-4"><textPath href="#p54" startOffset="129.1" text-anchor="middle">medium</textPath></text>
<text dy="-4"><textPath href="#p55" startOffset="129.1" text-anchor="middle">high</textPath></text>
<text dy="-4"><textPath href="#p56" startOffset="131.8" text-anchor="middle">very high</textPath></text>
<text dy="-4"><textPath href="#p57" startOffset="152.6" text-anchor="middle">open</textPath></text>
<text dy="-4"><textPath href="#p58" startOffset="123.1" text-anchor="middle">no</textPath></text>
<text dy="-4"><textPath href="#p59" startOffset="129.9" text-anchor="middle">low</textPath></text>
<text dy="-4"><textPath href="#p60" startOffset="129.1" text-anchor="middle">medium</textPath></text>
<text dy="-4"><textPath href="#p61" startOffset="129.1" text-anchor="middle">high</textPath></text>
<text dy="-4"><textPath href="#p62" startOffset="131.8" text-anchor="middle">very high</textPath></text>
<text dy="-4"><textPath href="#p63" startOffset="123.9" text-anchor="middle">yes</textPath></text>
<text dy="-4"><textPath href="#p64" startOffset="129.9" text-anchor="middle">low</textPath></text>
<text dy="-4"><textPath href="#p65" startOffset="129.1" text-anchor="middle">medium</textPath></text>
<text dy="-4"><textPath href="#p66" startOffset="129.1" text-anchor="middle">high</textPath></text>
<text dy="-4"><textPath href="#p67" startOffset="131.8" text-anchor="middle">very high</textPath></text>
<text dy="-4"><textPath href="#p68" startOffset="282.8" text-anchor="middle">active</textPath></text>
<text dy="-4"><textPath href="#p69" startOffset="150.9" text-anchor="middle">small</textPath></text>
<text dy="-4"><textPath href="#p70" startOffset="123.1" text-anchor="middle">no</textPath></text>
<text dy="-4"><textPath href="#p71" startOffset="129.9" text-anchor="middle">low</textPath></text>
<text dy="-4"><textPath href="#p72" startOffset="129.1" text-anchor="middle">medium</textPath></text>
<text dy="-4"><textPath href="#p73" startOffset="129.1" text-anchor="middle">high</textPath></text>
<text dy="-4"><textPath href="#p74" startOffset="131.8" text-anchor="middle">very high</textPath></text>
<text dy="-4"><textPath href="#p75" startOffset="123.9" text-anchor="middle">yes</textPath></text>
<text dy="-4"><textPath href="#p76" startOffset="129.9" text-anchor="middle">low</textPath></text>
<text dy="-4"><textPath href="#p77" startOffset="129.1" text-anchor="middle">medium</textPath></text>
<text dy="-4"><textPath href="#p78" startOffset="129.1" text-anchor="middle">high</textPath></text>
<text dy="-4"><textPath href="#p79" startOffset="131.8" text-anchor="middle">very high</textPath></text>
<text dy="-4"><textPath href="#p80" startOffset="109.2" text-anchor="middle">controlled</textPath></text>
<text dy="-4"><textPath href="#p81" startOffset="123.1" text-anchor="middle">no</textPath></text>
<text dy="-4"><textPath href="#p82" startOffset="129.9" text-anchor="middle">low</textPath></text>
<text dy="-4"><textPath href="#p83" startOffset="129.1" text-anchor="middle">medium</textPath></text>
<text dy="-4"><textPath href="#p84" startOffset="129.1" text-anchor="middle">high</textPath></text>
<text dy="-4"><textPath href="#p85" startOffset="131.8" text-anchor="middle">very high</textPath></text>
<text dy="-4"><textPath href="#p86" startOffset="123.9" text-anchor="middle">yes</textPath></text>
<text dy="-4"><textPath href="#p87" startOffset="129.9" text-anchor="middle">low</textPath></text>
<text dy="-4"><textPath href="#p88" startOffset="129.1" text-anchor="middle">medium</textPath></text>
<text dy="-4"><textPath href="#p89" startOffset="129.1" text-anchor="middle">high</textPath></text>
<text dy="-4"><textPath href="#p90" startOffset="131.8" text-anchor="middle">very high</textPath></text>
<text dy="-4"><textPath href="#p91" startOffset="152.6" text-anchor="middle">open</textPath></text>
<text dy="-4"><textPath href="#p92" startOffset="123.1" text-anchor="middle">no</textPath></text>
<text dy="-4"><textPath href="#p93" startOffset="129.9" text-anchor="middle">low</textPath></text>
<text dy="-4"><textPath href="#p94" startOffset="129.1" text-anchor="middle">medium</textPath></text>
<text dy="-4"><textPath href="#p95" startOffset="129.1" text-anchor="middle">high</textPath></text>
<text dy="-4"><textPath href="#p96" startOffset="131.8" text-anchor="middle">very high</textPath></text>
<text dy="-4"><textPath href="#p97" startOffset="123.9" text-anchor="middle">yes</textPath></text>
<text dy="-4"><textPath href="#p98" startOffset="129.9" text-anchor="middle">low</textPath></text>
<text dy="-4"><textPath href="#p99" startOffset="129.1" text-anchor="middle">medium</textPath></text>
<text dy="-4"><textPath href="#p100" startOffset="129.1" text-anchor="middle">high</textPath></text>
<text dy="-4"><textPath href="#p101" startOffset="131.8" text-anchor="middle">very high</textPath></text>
</g>
<g font-family="Liberation Sans, sans-serif" font-size="17" fill="#1e1e1e" stroke="#1e1e1e" stroke-width="0.2">
<text x="77.6" y="355.1">Exploitation</text>
<text x="256.1" y="-83.3">Exposure</text>
<text x="434.6" y="-229.4">Automatable</text>
<text x="613.1" y="-266.0">Human Impact</text>
<text x="613.1" y="-192.9">Human Impact</text>
<text x="434.6" y="-83.3">Automatable</text>
<text x="613.1" y="-119.8">Human Impact</text>
<text x="613.1" y="-46.8">Human Impact</text>
<text x="434.6" y="62.9">Automatable</text>
<text x="613.1" y="26.3">Human Impact</text>
<text x="613.1" y="99.4">Human Impact</text>
<text x="256.1" y="355.1">Exposure</text>
<text x="434.6" y="209.0">Automatable</text>
<text x="613.1" y="172.5">Human Impact</text>
<text x="613.1" y="245.5">Human Impact</text>
<text x="434.6" y="355.1">Automatable</text>
<text x="613.1" y="318.6">Human Impact</text>
<text x="613.1" y="391.7">Human Impact</text>
<text x="434.6" y="501.3">Automatable</text>
<text x="613.1" y="464.7">Human Impact</text>
<text x="613.1" y="537.8">Human Impact</text>
<text x="256.1" y="793.6">Exposure</text>
<text x="434.6" y="647.4">Automatable</text>
<text x="613.1" y="610.9">Human Impact</text>
<text x="613.1" y="684.0">Human Impact</text>
<text x="434.6" y="793.6">Automatable</text>
<text x="613.1" y="757.0">Human Impact</text>
<text x="613.1" y="830.1">Human Impact</text>
<text x="434.6" y="939.7">Automatable</text>
<text x="613.1" y="903.2">Human Impact</text>
<text x="613.1" y="976.2">Human Impact</text>
</g>
<g fill="#c8c8cb" stroke="#5d7ea9" stroke-width="2.5">
<circle cx="125.6" cy="382.6" r="8.9"/>
<circle cx="304.1" cy="-55.8" r="8.9"/>
<circle cx="482.6" cy="-201.9" r="8.9"/>
<circle cx="661.1" cy="-238.5" r="8.9"/>
<circle cx="661.1" cy="-165.4" r="8.9"/>
<circle cx="482.6" cy="-55.8" r="8.9"/>
<circle cx="661.1" cy="-92.3" r="8.9"/>
<circle cx="661.1" cy="-19.2" r="8.9"/>
<circle cx="482.6" cy="90.4" r="8.9"/>
<circle cx="661.1" cy="53.8" r="8.9"/>
<circle cx="661.1" cy="126.9" r="8.9"/>
<circle cx="304.1" cy="382.6" r="8.9"/>
<circle cx="482.6" cy="236.5" r="8.9"/>
<circle cx="661.1" cy="200.0" r="8.9"/>
<circle cx="661.1" cy="273.0" r="8.9"/>
<circle cx="482.6" cy="382.6" r="8.9"/>
<circle cx="661.1" cy="346.1" r="8.9"/>
<circle cx="661.1" cy="419.2" r="8.9"/>
<circle cx="482.6" cy="528.8" r="8.9"/>
<circle cx="661.1" cy="492.2" r="8.9"/>
<circle cx="661.1" cy="565.3" r="8.9"/>
<circle cx="304.1" cy="821.1" r="8.9"/>
<circle cx="482.6" cy="674.9" r="8.9"/>
<circle cx="661.1" cy="638.4" r="8.9"/>
<circle cx="661.1" cy="711.5" r="8.9"/>
<circle cx="482.6" cy="821.1" r="8.9"/>
<circle cx="661.1" cy="784.5" r="8.9"/>
<circle cx="661.1" cy="857.6" r="8.9"/>
<circle cx="482.6" cy="967.2" r="8.9"/>
<circle cx="661.1" cy="930.7" r="8.9"/>
<circle cx="661.1" cy="1003.7" r="8.9"/>
</g>
<g stroke="#5a7897" stroke-width="2.5">
<circle cx="839.6" cy="-260.4" r="8.6" fill="#f3e162"/>
<circle cx="839.6" cy="-245.8" r="8.6" fill="#f3e162"/>
<circle cx="839.6" cy="-231.2" r="8.6" fill="#e68a37"/>
<circle cx="839.6" cy="-216.5" r="8.6" fill="#e68a37"/>
<circle cx="839.6" cy="-187.3" r="8.6" fill="#f3e162"/>
<circle cx="839.6" cy="-172.7" r="8.6" fill="#f3e162"/>
<circle cx="839.6" cy="-158.1" r="8.6" fill="#e68a37"/>
<circle cx="839.6" cy="-143.5" r="8.6" fill="#e68a37"/>
<circle cx="839.6" cy="-114.2" r="8.6" fill="#f3e162"/>
<circle cx="839.6" cy="-99.6" r="8.6" fill="#f3e162"/>
<circle cx="839.6" cy="-85.0" r="8.6" fill="#e68a37"/>
<circle cx="839.6" cy="-70.4" r="8.6" fill="#e68a37"/>
<circle cx="839.6" cy="-41.2" r="8.6" fill="#f3e162"/>
<circle cx="839.6" cy="-26.6" r="8.6" fill="#f3e162"/>
<circle cx="839.6" cy="-11.9" r="8.6" fill="#e68a37"/>
<circle cx="839.6" cy="2.7" r="8.6" fill="#e68a37"/>
<circle cx="839.6" cy="31.9" r="8.6" fill="#f3e162"/>
<circle cx="839.6" cy="46.5" r="8.6" fill="#f3e162"/>
<circle cx="839.6" cy="61.1" r="8.6" fill="#e68a37"/>
<circle cx="839.6" cy="75.7" r="8.6" fill="#e68a37"/>
<circle cx="839.6" cy="105.0" r="8.6" fill="#f3e162"/>
<circle cx="839.6" cy="119.6" r="8.6" fill="#f3e162"/>
<circle cx="839.6" cy="134.2" r="8.6" fill="#e68a37"/>
<circle cx="839.6" cy="148.8" r="8.6" fill="#e68a37"/>
<circle cx="839.6" cy="178.0" r="8.6" fill="#7fd46a"/>
<circle cx="839.6" cy="192.7" r="8.6" fill="#7fd46a"/>
<circle cx="839.6" cy="207.3" r="8.6" fill="#f3e162"/>
<circle cx="839.6" cy="221.9" r="8.6" fill="#f3e162"/>
<circle cx="839.6" cy="251.1" r="8.6" fill="#f3e162"/>
<circle cx="839.6" cy="265.7" r="8.6" fill="#f3e162"/>
<circle cx="839.6" cy="280.3" r="8.6" fill="#f3e162"/>
<circle cx="839.6" cy="295.0" r="8.6" fill="#f3e162"/>
<circle cx="839.6" cy="324.2" r="8.6" fill="#7fd46a"/>
<circle cx="839.6" cy="338.8" r="8.6" fill="#f3e162"/>
<circle cx="839.6" cy="353.4" r="8.6" fill="#f3e162"/>
<circle cx="839.6" cy="368.0" r="8.6" fill="#f3e162"/>
<circle cx="839.6" cy="397.2" r="8.6" fill="#f3e162"/>
<circle cx="839.6" cy="411.9" r="8.6" fill="#f3e162"/>
<circle cx="839.6" cy="426.5" r="8.6" fill="#f3e162"/>
<circle cx="839.6" cy="441.1" r="8.6" fill="#e68a37"/>
<circle cx="839.6" cy="470.3" r="8.6" fill="#f3e162"/>
<circle cx="839.6" cy="484.9" r="8.6" fill="#f3e162"/>
<circle cx="839.6" cy="499.5" r="8.6" fill="#f3e162"/>
<circle cx="839.6" cy="514.2" r="8.6" fill="#e68a37"/>
<circle cx="839.6" cy="543.4" r="8.6" fill="#f3e162"/>
<circle cx="839.6" cy="558.0" r="8.6" fill="#f3e162"/>
<circle cx="839.6" cy="572.6" r="8.6" fill="#e68a37"/>
<circle cx="839.6" cy="587.2" r="8.6" fill="#e68a37"/>
<circle cx="839.6" cy="616.5" r="8.6" fill="#f3e162"/>
<circle cx="839.6" cy="631.1" r="8.6" fill="#f3e162"/>
<circle cx="839.6" cy="645.7" r="8.6" fill="#e68a37"/>
<circle cx="839.6" cy="660.3" r="8.6" fill="#e68a37"/>
<circle cx="839.6" cy="689.5" r="8.6" fill="#f3e162"/>
<circle cx="839.6" cy="704.1" r="8.6" fill="#e68a37"/>
<circle cx="839.6" cy="718.8" r="8.6" fill="#e68a37"/>
<circle cx="839.6" cy="733.4" r="8.6" fill="#e68a37"/>
<circle cx="839.6" cy="762.6" r="8.6" fill="#f3e162"/>
<circle cx="839.6" cy="777.2" r="8.6" fill="#f3e162"/>
<circle cx="839.6" cy="791.8" r="8.6" fill="#e68a37"/>
<circle cx="839.6" cy="806.4" r="8.6" fill="#e68a37"/>
<circle cx="839.6" cy="835.7" r="8.6" fill="#e68a37"/>
<circle cx="839.6" cy="850.3" r="8.6" fill="#e68a37"/>
<circle cx="839.6" cy="864.9" r="8.6" fill="#e68a37"/>
<circle cx="839.6" cy="879.5" r="8.6" fill="#e68a37"/>
<circle cx="839.6" cy="908.7" r="8.6" fill="#f3e162"/>
<circle cx="839.6" cy="923.4" r="8.6" fill="#e68a37"/>
<circle cx="839.6" cy="938.0" r="8.6" fill="#e68a37"/>
<circle cx="839.6" cy="952.6" r="8.6" fill="#e44a2e"/>
<circle cx="839.6" cy="981.8" r="8.6" fill="#e68a37"/>
<circle cx="839.6" cy="996.4" r="8.6" fill="#e68a37"/>
<circle cx="839.6" cy="1011.0" r="8.6" fill="#e44a2e"/>
<circle cx="839.6" cy="1025.7" r="8.6" fill="#e44a2e"/>
</g>
<g font-family="Liberation Sans, sans-serif" font-size="17">
<text x="857.6" y="-253.9" fill="#cfd589" stroke="#cfd589" stroke-width="0.35">scheduled</text>
<text x="857.6" y="-239.3" fill="#cfd589" stroke="#cfd589" stroke-width="0.35">scheduled</text>
<text x="857.6" y="-224.7" fill="#c6925f" stroke="#c6925f" stroke-width="0.35">out-of-cycle</text>
<text x="857.6" y="-210.0" fill="#c6925f" stroke="#c6925f" stroke-width="0.35">out-of-cycle</text>
<text x="857.6" y="-180.8" fill="#cfd589" stroke="#cfd589" stroke-width="0.35">scheduled</text>
<text x="857.6" y="-166.2" fill="#cfd589" stroke="#cfd589" stroke-width="0.35">scheduled</text>
<text x="857.6" y="-151.6" fill="#c6925f" stroke="#c6925f" stroke-width="0.35">out-of-cycle</text>
<text x="857.6" y="-137.0" fill="#c6925f" stroke="#c6925f" stroke-width="0.35">out-of-cycle</text>
<text x="857.6" y="-107.7" fill="#cfd589" stroke="#cfd589" stroke-width="0.35">scheduled</text>
<text x="857.6" y="-93.1" fill="#cfd589" stroke="#cfd589" stroke-width="0.35">scheduled</text>
<text x="857.6" y="-78.5" fill="#c6925f" stroke="#c6925f" stroke-width="0.35">out-of-cycle</text>
<text x="857.6" y="-63.9" fill="#c6925f" stroke="#c6925f" stroke-width="0.35">out-of-cycle</text>
<text x="857.6" y="-34.7" fill="#cfd589" stroke="#cfd589" stroke-width="0.35">scheduled</text>
<text x="857.6" y="-20.1" fill="#cfd589" stroke="#cfd589" stroke-width="0.35">scheduled</text>
<text x="857.6" y="-5.4" fill="#c6925f" stroke="#c6925f" stroke-width="0.35">out-of-cycle</text>
<text x="857.6" y="9.2" fill="#c6925f" stroke="#c6925f" stroke-width="0.35">out-of-cycle</text>
<text x="857.6" y="38.4" fill="#cfd589" stroke="#cfd589" stroke-width="0.35">scheduled</text>
<text x="857.6" y="53.0" fill="#cfd589" stroke="#cfd589" stroke-width="0.35">scheduled</text>
<text x="857.6" y="67.6" fill="#c6925f" stroke="#c6925f" stroke-width="0.35">out-of-cycle</text>
<text x="857.6" y="82.2" fill="#c6925f" stroke="#c6925f" stroke-width="0.35">out-of-cycle</text>
<text x="857.6" y="111.5" fill="#cfd589" stroke="#cfd589" stroke-width="0.35">scheduled</text>
<text x="857.6" y="126.1" fill="#cfd589" stroke="#cfd589" stroke-width="0.35">scheduled</text>
<text x="857.6" y="140.7" fill="#c6925f" stroke="#c6925f" stroke-width="0.35">out-of-cycle</text>
<text x="857.6" y="155.3" fill="#c6925f" stroke="#c6925f" stroke-width="0.35">out-of-cycle</text>
<text x="857.6" y="184.5" fill="#a3cf92" stroke="#a3cf92" stroke-width="0.35">defer</text>
<text x="857.6" y="199.2" fill="#a3cf92" stroke="#a3cf92" stroke-width="0.35">defer</text>
<text x="857.6" y="213.8" fill="#cfd589" stroke="#cfd589" stroke-width="0.35">scheduled</text>
<text x="857.6" y="228.4" fill="#cfd589" stroke="#cfd589" stroke-width="0.35">scheduled</text>
<text x="857.6" y="257.6" fill="#cfd589" stroke="#cfd589" stroke-width="0.35">scheduled</text>
<text x="857.6" y="272.2" fill="#cfd589" stroke="#cfd589" stroke-width="0.35">scheduled</text>
<text x="857.6" y="286.8" fill="#cfd589" stroke="#cfd589" stroke-width="0.35">scheduled</text>
<text x="857.6" y="301.5" fill="#cfd589" stroke="#cfd589" stroke-width="0.35">scheduled</text>
<text x="857.6" y="330.7" fill="#a3cf92" stroke="#a3cf92" stroke-width="0.35">defer</text>
<text x="857.6" y="345.3" fill="#cfd589" stroke="#cfd589" stroke-width="0.35">scheduled</text>
<text x="857.6" y="359.9" fill="#cfd589" stroke="#cfd589" stroke-width="0.35">scheduled</text>
<text x="857.6" y="374.5" fill="#cfd589" stroke="#cfd589" stroke-width="0.35">scheduled</text>
<text x="857.6" y="403.7" fill="#cfd589" stroke="#cfd589" stroke-width="0.35">scheduled</text>
<text x="857.6" y="418.4" fill="#cfd589" stroke="#cfd589" stroke-width="0.35">scheduled</text>
<text x="857.6" y="433.0" fill="#cfd589" stroke="#cfd589" stroke-width="0.35">scheduled</text>
<text x="857.6" y="447.6" fill="#c6925f" stroke="#c6925f" stroke-width="0.35">out-of-cycle</text>
<text x="857.6" y="476.8" fill="#cfd589" stroke="#cfd589" stroke-width="0.35">scheduled</text>
<text x="857.6" y="491.4" fill="#cfd589" stroke="#cfd589" stroke-width="0.35">scheduled</text>
<text x="857.6" y="506.0" fill="#cfd589" stroke="#cfd589" stroke-width="0.35">scheduled</text>
<text x="857.6" y="520.7" fill="#c6925f" stroke="#c6925f" stroke-width="0.35">out-of-cycle</text>
<text x="857.6" y="549.9" fill="#cfd589" stroke="#cfd589" stroke-width="0.35">scheduled</text>
<text x="857.6" y="564.5" fill="#cfd589" stroke="#cfd589" stroke-width="0.35">scheduled</text>
<text x="857.6" y="579.1" fill="#c6925f" stroke="#c6925f" stroke-width="0.35">out-of-cycle</text>
<text x="857.6" y="593.7" fill="#c6925f" stroke="#c6925f" stroke-width="0.35">out-of-cycle</text>
<text x="857.6" y="623.0" fill="#cfd589" stroke="#cfd589" stroke-width="0.35">scheduled</text>
<text x="857.6" y="637.6" fill="#cfd589" stroke="#cfd589" stroke-width="0.35">scheduled</text>
<text x="857.6" y="652.2" fill="#c6925f" stroke="#c6925f" stroke-width="0.35">out-of-cycle</text>
<text x="857.6" y="666.8" fill="#c6925f" stroke="#c6925f" stroke-width="0.35">out-of-cycle</text>
<text x="857.6" y="696.0" fill="#cfd589" stroke="#cfd589" stroke-width="0.35">scheduled</text>
<text x="857.6" y="710.6" fill="#c6925f" stroke="#c6925f" stroke-width="0.35">out-of-cycle</text>
<text x="857.6" y="725.3" fill="#c6925f" stroke="#c6925f" stroke-width="0.35">out-of-cycle</text>
<text x="857.6" y="739.9" fill="#c6925f" stroke="#c6925f" stroke-width="0.35">out-of-cycle</text>
<text x="857.6" y="769.1" fill="#cfd589" stroke="#cfd589" stroke-width="0.35">scheduled</text>
<text x="857.6" y="783.7" fill="#cfd589" stroke="#cfd589" stroke-width="0.35">scheduled</text>
<text x="857.6" y="798.3" fill="#c6925f" stroke="#c6925f" stroke-width="0.35">out-of-cycle</text>
<text x="857.6" y="812.9" fill="#c6925f" stroke="#c6925f" stroke-width="0.35">out-of-cycle</text>
<text x="857.6" y="842.2" fill="#c6925f" stroke="#c6925f" stroke-width="0.35">out-of-cycle</text>
<text x="857.6" y="856.8" fill="#c6925f" stroke="#c6925f" stroke-width="0.35">out-of-cycle</text>
<text x="857.6" y="871.4" fill="#c6925f" stroke="#c6925f" stroke-width="0.35">out-of-cycle</text>
<text x="857.6" y="886.0" fill="#c6925f" stroke="#c6925f" stroke-width="0.35">out-of-cycle</text>
<text x="857.6" y="915.2" fill="#cfd589" stroke="#cfd589" stroke-width="0.35">scheduled</text>
<text x="857.6" y="929.9" fill="#c6925f" stroke="#c6925f" stroke-width="0.35">out-of-cycle</text>
<text x="857.6" y="944.5" fill="#c6925f" stroke="#c6925f" stroke-width="0.35">out-of-cycle</text>
<text x="857.6" y="959.1" fill="#b2524a" stroke="#b2524a" stroke-width="0.35">immediate</text>
<text x="857.6" y="988.3" fill="#c6925f" stroke="#c6925f" stroke-width="0.35">out-of-cycle</text>
<text x="857.6" y="1002.9" fill="#c6925f" stroke="#c6925f" stroke-width="0.35">out-of-cycle</text>
<text x="857.6" y="1017.5" fill="#b2524a" stroke="#b2524a" stroke-width="0.35">immediate</text>
<text x="857.6" y="1032.2" fill="#b2524a" stroke="#b2524a" stroke-width="0.35">immediate</text>
</g>
</g>
<clipPath id="cr"><rect x="992.0" y="327.0" width="928.0" height="730.0"/></clipPath>
<g clip-path="url(#cr)">
<g fill="none" stroke="#333" stroke-width="2.1">
<path d="M1069.9,382.6C1159.2,382.6 1159.2,-55.8 1248.4,-55.8"/>
<path d="M1248.4,-55.8C1337.7,-55.8 1337.7,-201.9 1426.9,-201.9"/>
<path d="M1426.9,-201.9C1516.2,-201.9 1516.2,-238.5 1605.4,-238.5"/>
<path d="M1605.4,-238.5C1694.7,-238.5 1694.7,-260.4 1783.9,-260.4"/>
<path d="M1605.4,-238.5C1694.7,-238.5 1694.7,-245.8 1783.9,-245.8"/>
<path d="M1605.4,-238.5C1694.7,-238.5 1694.7,-231.2 1783.9,-231.2"/>
<path d="M1605.4,-238.5C1694.7,-238.5 1694.7,-216.5 1783.9,-216.5"/>
<path d="M1426.9,-201.9C1516.2,-201.9 1516.2,-165.4 1605.4,-165.4"/>
<path d="M1605.4,-165.4C1694.7,-165.4 1694.7,-187.3 1783.9,-187.3"/>
<path d="M1605.4,-165.4C1694.7,-165.4 1694.7,-172.7 1783.9,-172.7"/>
<path d="M1605.4,-165.4C1694.7,-165.4 1694.7,-158.1 1783.9,-158.1"/>
<path d="M1605.4,-165.4C1694.7,-165.4 1694.7,-143.5 1783.9,-143.5"/>
<path d="M1248.4,-55.8C1337.7,-55.8 1337.7,-55.8 1426.9,-55.8"/>
<path d="M1426.9,-55.8C1516.2,-55.8 1516.2,-92.3 1605.4,-92.3"/>
<path d="M1605.4,-92.3C1694.7,-92.3 1694.7,-114.2 1783.9,-114.2"/>
<path d="M1605.4,-92.3C1694.7,-92.3 1694.7,-99.6 1783.9,-99.6"/>
<path d="M1605.4,-92.3C1694.7,-92.3 1694.7,-85.0 1783.9,-85.0"/>
<path d="M1605.4,-92.3C1694.7,-92.3 1694.7,-70.4 1783.9,-70.4"/>
<path d="M1426.9,-55.8C1516.2,-55.8 1516.2,-19.2 1605.4,-19.2"/>
<path d="M1605.4,-19.2C1694.7,-19.2 1694.7,-41.2 1783.9,-41.2"/>
<path d="M1605.4,-19.2C1694.7,-19.2 1694.7,-26.6 1783.9,-26.6"/>
<path d="M1605.4,-19.2C1694.7,-19.2 1694.7,-11.9 1783.9,-11.9"/>
<path d="M1605.4,-19.2C1694.7,-19.2 1694.7,2.7 1783.9,2.7"/>
<path d="M1248.4,-55.8C1337.7,-55.8 1337.7,90.4 1426.9,90.4"/>
<path d="M1426.9,90.4C1516.2,90.4 1516.2,53.8 1605.4,53.8"/>
<path d="M1605.4,53.8C1694.7,53.8 1694.7,31.9 1783.9,31.9"/>
<path d="M1605.4,53.8C1694.7,53.8 1694.7,46.5 1783.9,46.5"/>
<path d="M1605.4,53.8C1694.7,53.8 1694.7,61.1 1783.9,61.1"/>
<path d="M1605.4,53.8C1694.7,53.8 1694.7,75.7 1783.9,75.7"/>
<path d="M1426.9,90.4C1516.2,90.4 1516.2,126.9 1605.4,126.9"/>
<path d="M1605.4,126.9C1694.7,126.9 1694.7,105.0 1783.9,105.0"/>
<path d="M1605.4,126.9C1694.7,126.9 1694.7,119.6 1783.9,119.6"/>
<path d="M1605.4,126.9C1694.7,126.9 1694.7,134.2 1783.9,134.2"/>
<path d="M1605.4,126.9C1694.7,126.9 1694.7,148.8 1783.9,148.8"/>
<path d="M1069.9,382.6C1159.2,382.6 1159.2,382.6 1248.4,382.6"/>
<path d="M1248.4,382.6C1337.7,382.6 1337.7,236.5 1426.9,236.5"/>
<path d="M1426.9,236.5C1516.2,236.5 1516.2,200.0 1605.4,200.0"/>
<path d="M1605.4,200.0C1694.7,200.0 1694.7,178.0 1783.9,178.0"/>
<path d="M1605.4,200.0C1694.7,200.0 1694.7,192.7 1783.9,192.7"/>
<path d="M1605.4,200.0C1694.7,200.0 1694.7,207.3 1783.9,207.3"/>
<path d="M1605.4,200.0C1694.7,200.0 1694.7,221.9 1783.9,221.9"/>
<path d="M1426.9,236.5C1516.2,236.5 1516.2,273.0 1605.4,273.0"/>
<path d="M1605.4,273.0C1694.7,273.0 1694.7,251.1 1783.9,251.1"/>
<path d="M1605.4,273.0C1694.7,273.0 1694.7,265.7 1783.9,265.7"/>
<path d="M1605.4,273.0C1694.7,273.0 1694.7,280.3 1783.9,280.3"/>
<path d="M1605.4,273.0C1694.7,273.0 1694.7,295.0 1783.9,295.0"/>
<path d="M1248.4,382.6C1337.7,382.6 1337.7,382.6 1426.9,382.6"/>
<path d="M1426.9,382.6C1516.2,382.6 1516.2,346.1 1605.4,346.1"/>
<path d="M1605.4,346.1C1694.7,346.1 1694.7,324.2 1783.9,324.2"/>
<path d="M1605.4,346.1C1694.7,346.1 1694.7,338.8 1783.9,338.8"/>
<path d="M1605.4,346.1C1694.7,346.1 1694.7,353.4 1783.9,353.4"/>
<path d="M1605.4,346.1C1694.7,346.1 1694.7,368.0 1783.9,368.0"/>
<path d="M1426.9,382.6C1516.2,382.6 1516.2,419.2 1605.4,419.2"/>
<path d="M1605.4,419.2C1694.7,419.2 1694.7,397.2 1783.9,397.2"/>
<path d="M1605.4,419.2C1694.7,419.2 1694.7,411.9 1783.9,411.9"/>
<path d="M1605.4,419.2C1694.7,419.2 1694.7,426.5 1783.9,426.5"/>
<path d="M1605.4,419.2C1694.7,419.2 1694.7,441.1 1783.9,441.1"/>
<path d="M1248.4,382.6C1337.7,382.6 1337.7,528.8 1426.9,528.8"/>
<path d="M1426.9,528.8C1516.2,528.8 1516.2,492.2 1605.4,492.2"/>
<path d="M1605.4,492.2C1694.7,492.2 1694.7,470.3 1783.9,470.3"/>
<path d="M1605.4,492.2C1694.7,492.2 1694.7,484.9 1783.9,484.9"/>
<path d="M1605.4,492.2C1694.7,492.2 1694.7,499.5 1783.9,499.5"/>
<path d="M1605.4,492.2C1694.7,492.2 1694.7,514.2 1783.9,514.2"/>
<path d="M1426.9,528.8C1516.2,528.8 1516.2,565.3 1605.4,565.3"/>
<path d="M1605.4,565.3C1694.7,565.3 1694.7,543.4 1783.9,543.4"/>
<path d="M1605.4,565.3C1694.7,565.3 1694.7,558.0 1783.9,558.0"/>
<path d="M1605.4,565.3C1694.7,565.3 1694.7,572.6 1783.9,572.6"/>
<path d="M1605.4,565.3C1694.7,565.3 1694.7,587.2 1783.9,587.2"/>
<path d="M1069.9,382.6C1159.2,382.6 1159.2,821.1 1248.4,821.1"/>
<path d="M1248.4,821.1C1337.7,821.1 1337.7,674.9 1426.9,674.9"/>
<path d="M1426.9,674.9C1516.2,674.9 1516.2,638.4 1605.4,638.4"/>
<path d="M1605.4,638.4C1694.7,638.4 1694.7,616.5 1783.9,616.5"/>
<path d="M1605.4,638.4C1694.7,638.4 1694.7,631.1 1783.9,631.1"/>
<path d="M1605.4,638.4C1694.7,638.4 1694.7,645.7 1783.9,645.7"/>
<path d="M1605.4,638.4C1694.7,638.4 1694.7,660.3 1783.9,660.3"/>
<path d="M1426.9,674.9C1516.2,674.9 1516.2,711.5 1605.4,711.5"/>
<path d="M1605.4,711.5C1694.7,711.5 1694.7,689.5 1783.9,689.5"/>
<path d="M1605.4,711.5C1694.7,711.5 1694.7,704.1 1783.9,704.1"/>
<path d="M1605.4,711.5C1694.7,711.5 1694.7,718.8 1783.9,718.8"/>
<path d="M1605.4,711.5C1694.7,711.5 1694.7,733.4 1783.9,733.4"/>
<path d="M1248.4,821.1C1337.7,821.1 1337.7,821.1 1426.9,821.1"/>
<path d="M1426.9,821.1C1516.2,821.1 1516.2,784.5 1605.4,784.5"/>
<path d="M1605.4,784.5C1694.7,784.5 1694.7,762.6 1783.9,762.6"/>
<path d="M1605.4,784.5C1694.7,784.5 1694.7,777.2 1783.9,777.2"/>
<path d="M1605.4,784.5C1694.7,784.5 1694.7,791.8 1783.9,791.8"/>
<path d="M1605.4,784.5C1694.7,784.5 1694.7,806.4 1783.9,806.4"/>
<path d="M1426.9,821.1C1516.2,821.1 1516.2,857.6 1605.4,857.6"/>
<path d="M1605.4,857.6C1694.7,857.6 1694.7,835.7 1783.9,835.7"/>
<path d="M1605.4,857.6C1694.7,857.6 1694.7,850.3 1783.9,850.3"/>
<path d="M1605.4,857.6C1694.7,857.6 1694.7,864.9 1783.9,864.9"/>
<path d="M1605.4,857.6C1694.7,857.6 1694.7,879.5 1783.9,879.5"/>
<path d="M1248.4,821.1C1337.7,821.1 1337.7,967.2 1426.9,967.2"/>
<path d="M1426.9,967.2C1516.2,967.2 1516.2,930.7 1605.4,930.7"/>
<path d="M1605.4,930.7C1694.7,930.7 1694.7,908.7 1783.9,908.7"/>
<path d="M1605.4,930.7C1694.7,930.7 1694.7,923.4 1783.9,923.4"/>
<path d="M1605.4,930.7C1694.7,930.7 1694.7,938.0 1783.9,938.0"/>
<path d="M1605.4,930.7C1694.7,930.7 1694.7,952.6 1783.9,952.6"/>
<path d="M1426.9,967.2C1516.2,967.2 1516.2,1003.7 1605.4,1003.7"/>
<path d="M1605.4,1003.7C1694.7,1003.7 1694.7,981.8 1783.9,981.8"/>
<path d="M1605.4,1003.7C1694.7,1003.7 1694.7,996.4 1783.9,996.4"/>
<path d="M1605.4,1003.7C1694.7,1003.7 1694.7,1011.0 1783.9,1011.0"/>
<path d="M1605.4,1003.7C1694.7,1003.7 1694.7,1025.7 1783.9,1025.7"/>
</g>
<defs>
<path id="p102" d="M1248.4,-55.8C1337.7,-55.8 1337.7,-201.9 1426.9,-201.9"/>
<path id="p103" d="M1426.9,-201.9C1516.2,-201.9 1516.2,-238.5 1605.4,-238.5"/>
<path id="p104" d="M1605.4,-238.5C1694.7,-238.5 1694.7,-260.4 1783.9,-260.4"/>
<path id="p105" d="M1605.4,-238.5C1694.7,-238.5 1694.7,-245.8 1783.9,-245.8"/>
<path id="p106" d="M1605.4,-238.5C1694.7,-238.5 1694.7,-231.2 1783.9,-231.2"/>
<path id="p107" d="M1605.4,-238.5C1694.7,-238.5 1694.7,-216.5 1783.9,-216.5"/>
<path id="p108" d="M1426.9,-201.9C1516.2,-201.9 1516.2,-165.4 1605.4,-165.4"/>
<path id="p109" d="M1605.4,-165.4C1694.7,-165.4 1694.7,-187.3 1783.9,-187.3"/>
<path id="p110" d="M1605.4,-165.4C1694.7,-165.4 1694.7,-172.7 1783.9,-172.7"/>
<path id="p111" d="M1605.4,-165.4C1694.7,-165.4 1694.7,-158.1 1783.9,-158.1"/>
<path id="p112" d="M1605.4,-165.4C1694.7,-165.4 1694.7,-143.5 1783.9,-143.5"/>
<path id="p113" d="M1248.4,-55.8C1337.7,-55.8 1337.7,-55.8 1426.9,-55.8"/>
<path id="p114" d="M1426.9,-55.8C1516.2,-55.8 1516.2,-92.3 1605.4,-92.3"/>
<path id="p115" d="M1605.4,-92.3C1694.7,-92.3 1694.7,-114.2 1783.9,-114.2"/>
<path id="p116" d="M1605.4,-92.3C1694.7,-92.3 1694.7,-99.6 1783.9,-99.6"/>
<path id="p117" d="M1605.4,-92.3C1694.7,-92.3 1694.7,-85.0 1783.9,-85.0"/>
<path id="p118" d="M1605.4,-92.3C1694.7,-92.3 1694.7,-70.4 1783.9,-70.4"/>
<path id="p119" d="M1426.9,-55.8C1516.2,-55.8 1516.2,-19.2 1605.4,-19.2"/>
<path id="p120" d="M1605.4,-19.2C1694.7,-19.2 1694.7,-41.2 1783.9,-41.2"/>
<path id="p121" d="M1605.4,-19.2C1694.7,-19.2 1694.7,-26.6 1783.9,-26.6"/>
<path id="p122" d="M1605.4,-19.2C1694.7,-19.2 1694.7,-11.9 1783.9,-11.9"/>
<path id="p123" d="M1605.4,-19.2C1694.7,-19.2 1694.7,2.7 1783.9,2.7"/>
<path id="p124" d="M1248.4,-55.8C1337.7,-55.8 1337.7,90.4 1426.9,90.4"/>
<path id="p125" d="M1426.9,90.4C1516.2,90.4 1516.2,53.8 1605.4,53.8"/>
<path id="p126" d="M1605.4,53.8C1694.7,53.8 1694.7,31.9 1783.9,31.9"/>
<path id="p127" d="M1605.4,53.8C1694.7,53.8 1694.7,46.5 1783.9,46.5"/>
<path id="p128" d="M1605.4,53.8C1694.7,53.8 1694.7,61.1 1783.9,61.1"/>
<path id="p129" d="M1605.4,53.8C1694.7,53.8 1694.7,75.7 1783.9,75.7"/>
<path id="p130" d="M1426.9,90.4C1516.2,90.4 1516.2,126.9 1605.4,126.9"/>
<path id="p131" d="M1605.4,126.9C1694.7,126.9 1694.7,105.0 1783.9,105.0"/>
<path id="p132" d="M1605.4,126.9C1694.7,126.9 1694.7,119.6 1783.9,119.6"/>
<path id="p133" d="M1605.4,126.9C1694.7,126.9 1694.7,134.2 1783.9,134.2"/>
<path id="p134" d="M1605.4,126.9C1694.7,126.9 1694.7,148.8 1783.9,148.8"/>
<path id="p135" d="M1069.9,382.6C1159.2,382.6 1159.2,382.6 1248.4,382.6"/>
<path id="p136" d="M1248.4,382.6C1337.7,382.6 1337.7,236.5 1426.9,236.5"/>
<path id="p137" d="M1426.9,236.5C1516.2,236.5 1516.2,200.0 1605.4,200.0"/>
<path id="p138" d="M1605.4,200.0C1694.7,200.0 1694.7,178.0 1783.9,178.0"/>
<path id="p139" d="M1605.4,200.0C1694.7,200.0 1694.7,192.7 1783.9,192.7"/>
<path id="p140" d="M1605.4,200.0C1694.7,200.0 1694.7,207.3 1783.9,207.3"/>
<path id="p141" d="M1605.4,200.0C1694.7,200.0 1694.7,221.9 1783.9,221.9"/>
<path id="p142" d="M1426.9,236.5C1516.2,236.5 1516.2,273.0 1605.4,273.0"/>
<path id="p143" d="M1605.4,273.0C1694.7,273.0 1694.7,251.1 1783.9,251.1"/>
<path id="p144" d="M1605.4,273.0C1694.7,273.0 1694.7,265.7 1783.9,265.7"/>
<path id="p145" d="M1605.4,273.0C1694.7,273.0 1694.7,280.3 1783.9,280.3"/>
<path id="p146" d="M1605.4,273.0C1694.7,273.0 1694.7,295.0 1783.9,295.0"/>
<path id="p147" d="M1248.4,382.6C1337.7,382.6 1337.7,382.6 1426.9,382.6"/>
<path id="p148" d="M1426.9,382.6C1516.2,382.6 1516.2,346.1 1605.4,346.1"/>
<path id="p149" d="M1605.4,346.1C1694.7,346.1 1694.7,324.2 1783.9,324.2"/>
<path id="p150" d="M1605.4,346.1C1694.7,346.1 1694.7,338.8 1783.9,338.8"/>
<path id="p151" d="M1605.4,346.1C1694.7,346.1 1694.7,353.4 1783.9,353.4"/>
<path id="p152" d="M1605.4,346.1C1694.7,346.1 1694.7,368.0 1783.9,368.0"/>
<path id="p153" d="M1426.9,382.6C1516.2,382.6 1516.2,419.2 1605.4,419.2"/>
<path id="p154" d="M1605.4,419.2C1694.7,419.2 1694.7,397.2 1783.9,397.2"/>
<path id="p155" d="M1605.4,419.2C1694.7,419.2 1694.7,411.9 1783.9,411.9"/>
<path id="p156" d="M1605.4,419.2C1694.7,419.2 1694.7,426.5 1783.9,426.5"/>
<path id="p157" d="M1605.4,419.2C1694.7,419.2 1694.7,441.1 1783.9,441.1"/>
<path id="p158" d="M1248.4,382.6C1337.7,382.6 1337.7,528.8 1426.9,528.8"/>
<path id="p159" d="M1426.9,528.8C1516.2,528.8 1516.2,492.2 1605.4,492.2"/>
<path id="p160" d="M1605.4,492.2C1694.7,492.2 1694.7,470.3 1783.9,470.3"/>
<path id="p161" d="M1605.4,492.2C1694.7,492.2 1694.7,484.9 1783.9,484.9"/>
<path id="p162" d="M1605.4,492.2C1694.7,492.2 1694.7,499.5 1783.9,499.5"/>
<path id="p163" d="M1605.4,492.2C1694.7,492.2 1694.7,514.2 1783.9,514.2"/>
<path id="p164" d="M1426.9,528.8C1516.2,528.8 1516.2,565.3 1605.4,565.3"/>
<path id="p165" d="M1605.4,565.3C1694.7,565.3 1694.7,543.4 1783.9,543.4"/>
<path id="p166" d="M1605.4,565.3C1694.7,565.3 1694.7,558.0 1783.9,558.0"/>
<path id="p167" d="M1605.4,565.3C1694.7,565.3 1694.7,572.6 1783.9,572.6"/>
<path id="p168" d="M1605.4,565.3C1694.7,565.3 1694.7,587.2 1783.9,587.2"/>
<path id="p169" d="M1069.9,382.6C1159.2,382.6 1159.2,821.1 1248.4,821.1"/>
<path id="p170" d="M1248.4,821.1C1337.7,821.1 1337.7,674.9 1426.9,674.9"/>
<path id="p171" d="M1426.9,674.9C1516.2,674.9 1516.2,638.4 1605.4,638.4"/>
<path id="p172" d="M1605.4,638.4C1694.7,638.4 1694.7,616.5 1783.9,616.5"/>
<path id="p173" d="M1605.4,638.4C1694.7,638.4 1694.7,631.1 1783.9,631.1"/>
<path id="p174" d="M1605.4,638.4C1694.7,638.4 1694.7,645.7 1783.9,645.7"/>
<path id="p175" d="M1605.4,638.4C1694.7,638.4 1694.7,660.3 1783.9,660.3"/>
<path id="p176" d="M1426.9,674.9C1516.2,674.9 1516.2,711.5 1605.4,711.5"/>
<path id="p177" d="M1605.4,711.5C1694.7,711.5 1694.7,689.5 1783.9,689.5"/>
<path id="p178" d="M1605.4,711.5C1694.7,711.5 1694.7,704.1 1783.9,704.1"/>
<path id="p179" d="M1605.4,711.5C1694.7,711.5 1694.7,718.8 1783.9,718.8"/>
<path id="p180" d="M1605.4,711.5C1694.7,711.5 1694.7,733.4 1783.9,733.4"/>
<path id="p181" d="M1248.4,821.1C1337.7,821.1 1337.7,821.1 1426.9,821.1"/>
<path id="p182" d="M1426.9,821.1C1516.2,821.1 1516.2,784.5 1605.4,784.5"/>
<path id="p183" d="M1605.4,784.5C1694.7,784.5 1694.7,762.6 1783.9,762.6"/>
<path id="p184" d="M1605.4,784.5C1694.7,784.5 1694.7,777.2 1783.9,777.2"/>
<path id="p185" d="M1605.4,784.5C1694.7,784.5 1694.7,791.8 1783.9,791.8"/>
<path id="p186" d="M1605.4,784.5C1694.7,784.5 1694.7,806.4 1783.9,806.4"/>
<path id="p187" d="M1426.9,821.1C1516.2,821.1 1516.2,857.6 1605.4,857.6"/>
<path id="p188" d="M1605.4,857.6C1694.7,857.6 1694.7,835.7 1783.9,835.7"/>
<path id="p189" d="M1605.4,857.6C1694.7,857.6 1694.7,850.3 1783.9,850.3"/>
<path id="p190" d="M1605.4,857.6C1694.7,857.6 1694.7,864.9 1783.9,864.9"/>
<path id="p191" d="M1605.4,857.6C1694.7,857.6 1694.7,879.5 1783.9,879.5"/>
<path id="p192" d="M1248.4,821.1C1337.7,821.1 1337.7,967.2 1426.9,967.2"/>
<path id="p193" d="M1426.9,967.2C1516.2,967.2 1516.2,930.7 1605.4,930.7"/>
<path id="p194" d="M1605.4,930.7C1694.7,930.7 1694.7,908.7 1783.9,908.7"/>
<path id="p195" d="M1605.4,930.7C1694.7,930.7 1694.7,923.4 1783.9,923.4"/>
<path id="p196" d="M1605.4,930.7C1694.7,930.7 1694.7,938.0 1783.9,938.0"/>
<path id="p197" d="M1605.4,930.7C1694.7,930.7 1694.7,952.6 1783.9,952.6"/>
<path id="p198" d="M1426.9,967.2C1516.2,967.2 1516.2,1003.7 1605.4,1003.7"/>
<path id="p199" d="M1605.4,1003.7C1694.7,1003.7 1694.7,981.8 1783.9,981.8"/>
<path id="p200" d="M1605.4,1003.7C1694.7,1003.7 1694.7,996.4 1783.9,996.4"/>
<path id="p201" d="M1605.4,1003.7C1694.7,1003.7 1694.7,1011.0 1783.9,1011.0"/>
<path id="p202" d="M1605.4,1003.7C1694.7,1003.7 1694.7,1025.7 1783.9,1025.7"/>
</defs>
<g font-family="Liberation Sans, sans-serif" font-size="12" fill="#5a9096" stroke="#5a9096" stroke-width="0.25">
<text dy="-4"><textPath href="#p102" startOffset="150.9" text-anchor="middle">small</textPath></text>
<text dy="-4"><textPath href="#p103" startOffset="123.1" text-anchor="middle">no</textPath></text>
<text dy="-4"><textPath href="#p104" startOffset="129.9" text-anchor="middle">low</textPath></text>
<text dy="-4"><textPath href="#p105" startOffset="129.1" text-anchor="middle">medium</textPath></text>
<text dy="-4"><textPath href="#p106" startOffset="129.1" text-anchor="middle">high</textPath></text>
<text dy="-4"><textPath href="#p107" startOffset="131.8" text-anchor="middle">very high</textPath></text>
<text dy="-4"><textPath href="#p108" startOffset="123.9" text-anchor="middle">yes</textPath></text>
<text dy="-4"><textPath href="#p109" startOffset="129.9" text-anchor="middle">low</textPath></text>
<text dy="-4"><textPath href="#p110" startOffset="129.1" text-anchor="middle">medium</textPath></text>
<text dy="-4"><textPath href="#p111" startOffset="129.1" text-anchor="middle">high</textPath></text>
<text dy="-4"><textPath href="#p112" startOffset="131.8" text-anchor="middle">very high</textPath></text>
<text dy="-4"><textPath href="#p113" startOffset="109.2" text-anchor="middle">controlled</textPath></text>
<text dy="-4"><textPath href="#p114" startOffset="123.1" text-anchor="middle">no</textPath></text>
<text dy="-4"><textPath href="#p115" startOffset="129.9" text-anchor="middle">low</textPath></text>
<text dy="-4"><textPath href="#p116" startOffset="129.1" text-anchor="middle">medium</textPath></text>
<text dy="-4"><textPath href="#p117" startOffset="129.1" text-anchor="middle">high</textPath></text>
<text dy="-4"><textPath href="#p118" startOffset="131.8" text-anchor="middle">very high</textPath></text>
<text dy="-4"><textPath href="#p119" startOffset="123.9" text-anchor="middle">yes</textPath></text>
<text dy="-4"><textPath href="#p120" startOffset="129.9" text-anchor="middle">low</textPath></text>
<text dy="-4"><textPath href="#p121" startOffset="129.1" text-anchor="middle">medium</textPath></text>
<text dy="-4"><textPath href="#p122" startOffset="129.1" text-anchor="middle">high</textPath></text>
<text dy="-4"><textPath href="#p123" startOffset="131.8" text-anchor="middle">very high</textPath></text>
<text dy="-4"><textPath href="#p124" startOffset="152.6" text-anchor="middle">open</textPath></text>
<text dy="-4"><textPath href="#p125" startOffset="123.1" text-anchor="middle">no</textPath></text>
<text dy="-4"><textPath href="#p126" startOffset="129.9" text-anchor="middle">low</textPath></text>
<text dy="-4"><textPath href="#p127" startOffset="129.1" text-anchor="middle">medium</textPath></text>
<text dy="-4"><textPath href="#p128" startOffset="129.1" text-anchor="middle">high</textPath></text>
<text dy="-4"><textPath href="#p129" startOffset="131.8" text-anchor="middle">very high</textPath></text>
<text dy="-4"><textPath href="#p130" startOffset="123.9" text-anchor="middle">yes</textPath></text>
<text dy="-4"><textPath href="#p131" startOffset="129.9" text-anchor="middle">low</textPath></text>
<text dy="-4"><textPath href="#p132" startOffset="129.1" text-anchor="middle">medium</textPath></text>
<text dy="-4"><textPath href="#p133" startOffset="129.1" text-anchor="middle">high</textPath></text>
<text dy="-4"><textPath href="#p134" startOffset="131.8" text-anchor="middle">very high</textPath></text>
<text dy="-4"><textPath href="#p135" startOffset="100.1" text-anchor="middle">poc</textPath></text>
<text dy="-4"><textPath href="#p136" startOffset="150.9" text-anchor="middle">small</textPath></text>
<text dy="-4"><textPath href="#p137" startOffset="123.1" text-anchor="middle">no</textPath></text>
<text dy="-4"><textPath href="#p138" startOffset="129.9" text-anchor="middle">low</textPath></text>
<text dy="-4"><textPath href="#p139" startOffset="129.1" text-anchor="middle">medium</textPath></text>
<text dy="-4"><textPath href="#p140" startOffset="129.1" text-anchor="middle">high</textPath></text>
<text dy="-4"><textPath href="#p141" startOffset="131.8" text-anchor="middle">very high</textPath></text>
<text dy="-4"><textPath href="#p142" startOffset="123.9" text-anchor="middle">yes</textPath></text>
<text dy="-4"><textPath href="#p143" startOffset="129.9" text-anchor="middle">low</textPath></text>
<text dy="-4"><textPath href="#p144" startOffset="129.1" text-anchor="middle">medium</textPath></text>
<text dy="-4"><textPath href="#p145" startOffset="129.1" text-anchor="middle">high</textPath></text>
<text dy="-4"><textPath href="#p146" startOffset="131.8" text-anchor="middle">very high</textPath></text>
<text dy="-4"><textPath href="#p147" startOffset="109.2" text-anchor="middle">controlled</textPath></text>
<text dy="-4"><textPath href="#p148" startOffset="123.1" text-anchor="middle">no</textPath></text>
<text dy="-4"><textPath href="#p149" startOffset="129.9" text-anchor="middle">low</textPath></text>
<text dy="-4"><textPath href="#p150" startOffset="129.1" text-anchor="middle">medium</textPath></text>
<text dy="-4"><textPath href="#p151" startOffset="129.1" text-anchor="middle">high</textPath></text>
<text dy="-4"><textPath href="#p152" startOffset="131.8" text-anchor="middle">very high</textPath></text>
<text dy="-4"><textPath href="#p153" startOffset="123.9" text-anchor="middle">yes</textPath></text>
<text dy="-4"><textPath href="#p154" startOffset="129.9" text-anchor="middle">low</textPath></text>
<text dy="-4"><textPath href="#p155" startOffset="129.1" text-anchor="middle">medium</textPath></text>
<text dy="-4"><textPath href="#p156" startOffset="129.1" text-anchor="middle">high</textPath></text>
<text dy="-4"><textPath href="#p157" startOffset="131.8" text-anchor="middle">very high</textPath></text>
<text dy="-4"><textPath href="#p158" startOffset="152.6" text-anchor="middle">open</textPath></text>
<text dy="-4"><textPath href="#p159" startOffset="123.1" text-anchor="middle">no</textPath></text>
<text dy="-4"><textPath href="#p160" startOffset="129.9" text-anchor="middle">low</textPath></text>
<text dy="-4"><textPath href="#p161" startOffset="129.1" text-anchor="middle">medium</textPath></text>
<text dy="-4"><textPath href="#p162" startOffset="129.1" text-anchor="middle">high</textPath></text>
<text dy="-4"><textPath href="#p163" startOffset="131.8" text-anchor="middle">very high</textPath></text>
<text dy="-4"><textPath href="#p164" startOffset="123.9" text-anchor="middle">yes</textPath></text>
<text dy="-4"><textPath href="#p165" startOffset="129.9" text-anchor="middle">low</textPath></text>
<text dy="-4"><textPath href="#p166" startOffset="129.1" text-anchor="middle">medium</textPath></text>
<text dy="-4"><textPath href="#p167" startOffset="129.1" text-anchor="middle">high</textPath></text>
<text dy="-4"><textPath href="#p168" startOffset="131.8" text-anchor="middle">very high</textPath></text>
<text dy="-4"><textPath href="#p169" startOffset="282.8" text-anchor="middle">active</textPath></text>
<text dy="-4"><textPath href="#p170" startOffset="150.9" text-anchor="middle">small</textPath></text>
<text dy="-4"><textPath href="#p171" startOffset="123.1" text-anchor="middle">no</textPath></text>
<text dy="-4"><textPath href="#p172" startOffset="129.9" text-anchor="middle">low</textPath></text>
<text dy="-4"><textPath href="#p173" startOffset="129.1" text-anchor="middle">medium</textPath></text>
<text dy="-4"><textPath href="#p174" startOffset="129.1" text-anchor="middle">high</textPath></text>
<text dy="-4"><textPath href="#p175" startOffset="131.8" text-anchor="middle">very high</textPath></text>
<text dy="-4"><textPath href="#p176" startOffset="123.9" text-anchor="middle">yes</textPath></text>
<text dy="-4"><textPath href="#p177" startOffset="129.9" text-anchor="middle">low</textPath></text>
<text dy="-4"><textPath href="#p178" startOffset="129.1" text-anchor="middle">medium</textPath></text>
<text dy="-4"><textPath href="#p179" startOffset="129.1" text-anchor="middle">high</textPath></text>
<text dy="-4"><textPath href="#p180" startOffset="131.8" text-anchor="middle">very high</textPath></text>
<text dy="-4"><textPath href="#p181" startOffset="109.2" text-anchor="middle">controlled</textPath></text>
<text dy="-4"><textPath href="#p182" startOffset="123.1" text-anchor="middle">no</textPath></text>
<text dy="-4"><textPath href="#p183" startOffset="129.9" text-anchor="middle">low</textPath></text>
<text dy="-4"><textPath href="#p184" startOffset="129.1" text-anchor="middle">medium</textPath></text>
<text dy="-4"><textPath href="#p185" startOffset="129.1" text-anchor="middle">high</textPath></text>
<text dy="-4"><textPath href="#p186" startOffset="131.8" text-anchor="middle">very high</textPath></text>
<text dy="-4"><textPath href="#p187" startOffset="123.9" text-anchor="middle">yes</textPath></text>
<text dy="-4"><textPath href="#p188" startOffset="129.9" text-anchor="middle">low</textPath></text>
<text dy="-4"><textPath href="#p189" startOffset="129.1" text-anchor="middle">medium</textPath></text>
<text dy="-4"><textPath href="#p190" startOffset="129.1" text-anchor="middle">high</textPath></text>
<text dy="-4"><textPath href="#p191" startOffset="131.8" text-anchor="middle">very high</textPath></text>
<text dy="-4"><textPath href="#p192" startOffset="152.6" text-anchor="middle">open</textPath></text>
<text dy="-4"><textPath href="#p193" startOffset="123.1" text-anchor="middle">no</textPath></text>
<text dy="-4"><textPath href="#p194" startOffset="129.9" text-anchor="middle">low</textPath></text>
<text dy="-4"><textPath href="#p195" startOffset="129.1" text-anchor="middle">medium</textPath></text>
<text dy="-4"><textPath href="#p196" startOffset="129.1" text-anchor="middle">high</textPath></text>
<text dy="-4"><textPath href="#p197" startOffset="131.8" text-anchor="middle">very high</textPath></text>
<text dy="-4"><textPath href="#p198" startOffset="123.9" text-anchor="middle">yes</textPath></text>
<text dy="-4"><textPath href="#p199" startOffset="129.9" text-anchor="middle">low</textPath></text>
<text dy="-4"><textPath href="#p200" startOffset="129.1" text-anchor="middle">medium</textPath></text>
<text dy="-4"><textPath href="#p201" startOffset="129.1" text-anchor="middle">high</textPath></text>
<text dy="-4"><textPath href="#p202" startOffset="131.8" text-anchor="middle">very high</textPath></text>
</g>
<g font-family="Liberation Sans, sans-serif" font-size="17" fill="#1e1e1e" stroke="#1e1e1e" stroke-width="0.2">
<text x="1021.9" y="355.1">Exploitation</text>
<text x="1200.4" y="-83.3">Exposure</text>
<text x="1378.9" y="-229.4">Automatable</text>
<text x="1557.4" y="-266.0">Human Impact</text>
<text x="1557.4" y="-192.9">Human Impact</text>
<text x="1378.9" y="-83.3">Automatable</text>
<text x="1557.4" y="-119.8">Human Impact</text>
<text x="1557.4" y="-46.8">Human Impact</text>
<text x="1378.9" y="62.9">Automatable</text>
<text x="1557.4" y="26.3">Human Impact</text>
<text x="1557.4" y="99.4">Human Impact</text>
<text x="1200.4" y="355.1">Exposure</text>
<text x="1378.9" y="209.0">Automatable</text>
<text x="1557.4" y="172.5">Human Impact</text>
<text x="1557.4" y="245.5">Human Impact</text>
<text x="1378.9" y="355.1">Automatable</text>
<text x="1557.4" y="318.6">Human Impact</text>
<text x="1557.4" y="391.7">Human Impact</text>
<text x="1378.9" y="501.3">Automatable</text>
<text x="1557.4" y="464.7">Human Impact</text>
<text x="1557.4" y="537.8">Human Impact</text>
<text x="1200.4" y="793.6">Exposure</text>
<text x="1378.9" y="647.4">Automatable</text>
<text x="1557.4" y="610.9">Human Impact</text>
<text x="1557.4" y="684.0">Human Impact</text>
<text x="1378.9" y="793.6">Automatable</text>
<text x="1557.4" y="757.0">Human Impact</text>
<text x="1557.4" y="830.1">Human Impact</text>
<text x="1378.9" y="939.7">Automatable</text>
<text x="1557.4" y="903.2">Human Impact</text>
<text x="1557.4" y="976.2">Human Impact</text>
</g>
<g fill="#c8c8cb" stroke="#5d7ea9" stroke-width="2.5">
<circle cx="1069.9" cy="382.6" r="8.9"/>
<circle cx="1248.4" cy="-55.8" r="8.9"/>
<circle cx="1426.9" cy="-201.9" r="8.9"/>
<circle cx="1605.4" cy="-238.5" r="8.9"/>
<circle cx="1605.4" cy="-165.4" r="8.9"/>
<circle cx="1426.9" cy="-55.8" r="8.9"/>
<circle cx="1605.4" cy="-92.3" r="8.9"/>
<circle cx="1605.4" cy="-19.2" r="8.9"/>
<circle cx="1426.9" cy="90.4" r="8.9"/>
<circle cx="1605.4" cy="53.8" r="8.9"/>
<circle cx="1605.4" cy="126.9" r="8.9"/>
<circle cx="1248.4" cy="382.6" r="8.9"/>
<circle cx="1426.9" cy="236.5" r="8.9"/>
<circle cx="1605.4" cy="200.0" r="8.9"/>
<circle cx="1605.4" cy="273.0" r="8.9"/>
<circle cx="1426.9" cy="382.6" r="8.9"/>
<circle cx="1605.4" cy="346.1" r="8.9"/>
<circle cx="1605.4" cy="419.2" r="8.9"/>
<circle cx="1426.9" cy="528.8" r="8.9"/>
<circle cx="1605.4" cy="492.2" r="8.9"/>
<circle cx="1605.4" cy="565.3" r="8.9"/>
<circle cx="1248.4" cy="821.1" r="8.9"/>
<circle cx="1426.9" cy="674.9" r="8.9"/>
<circle cx="1605.4" cy="638.4" r="8.9"/>
<circle cx="1605.4" cy="711.5" r="8.9"/>
<circle cx="1426.9" cy="821.1" r="8.9"/>
<circle cx="1605.4" cy="784.5" r="8.9"/>
<circle cx="1605.4" cy="857.6" r="8.9"/>
<circle cx="1426.9" cy="967.2" r="8.9"/>
<circle cx="1605.4" cy="930.7" r="8.9"/>
<circle cx="1605.4" cy="1003.7" r="8.9"/>
</g>
<g stroke="#5a7897" stroke-width="2.5">
<circle cx="1783.9" cy="-260.4" r="8.6" fill="#f3e162"/>
<circle cx="1783.9" cy="-245.8" r="8.6" fill="#f3e162"/>
<circle cx="1783.9" cy="-231.2" r="8.6" fill="#e68a37"/>
<circle cx="1783.9" cy="-216.5" r="8.6" fill="#e68a37"/>
<circle cx="1783.9" cy="-187.3" r="8.6" fill="#f3e162"/>
<circle cx="1783.9" cy="-172.7" r="8.6" fill="#f3e162"/>
<circle cx="1783.9" cy="-158.1" r="8.6" fill="#e68a37"/>
<circle cx="1783.9" cy="-143.5" r="8.6" fill="#e68a37"/>
<circle cx="1783.9" cy="-114.2" r="8.6" fill="#f3e162"/>
<circle cx="1783.9" cy="-99.6" r="8.6" fill="#f3e162"/>
<circle cx="1783.9" cy="-85.0" r="8.6" fill="#e68a37"/>
<circle cx="1783.9" cy="-70.4" r="8.6" fill="#e68a37"/>
<circle cx="1783.9" cy="-41.2" r="8.6" fill="#f3e162"/>
<circle cx="1783.9" cy="-26.6" r="8.6" fill="#f3e162"/>
<circle cx="1783.9" cy="-11.9" r="8.6" fill="#e68a37"/>
<circle cx="1783.9" cy="2.7" r="8.6" fill="#e68a37"/>
<circle cx="1783.9" cy="31.9" r="8.6" fill="#f3e162"/>
<circle cx="1783.9" cy="46.5" r="8.6" fill="#f3e162"/>
<circle cx="1783.9" cy="61.1" r="8.6" fill="#e68a37"/>
<circle cx="1783.9" cy="75.7" r="8.6" fill="#e68a37"/>
<circle cx="1783.9" cy="105.0" r="8.6" fill="#f3e162"/>
<circle cx="1783.9" cy="119.6" r="8.6" fill="#f3e162"/>
<circle cx="1783.9" cy="134.2" r="8.6" fill="#e68a37"/>
<circle cx="1783.9" cy="148.8" r="8.6" fill="#e68a37"/>
<circle cx="1783.9" cy="178.0" r="8.6" fill="#7fd46a"/>
<circle cx="1783.9" cy="192.7" r="8.6" fill="#7fd46a"/>
<circle cx="1783.9" cy="207.3" r="8.6" fill="#f3e162"/>
<circle cx="1783.9" cy="221.9" r="8.6" fill="#f3e162"/>
<circle cx="1783.9" cy="251.1" r="8.6" fill="#f3e162"/>
<circle cx="1783.9" cy="265.7" r="8.6" fill="#f3e162"/>
<circle cx="1783.9" cy="280.3" r="8.6" fill="#f3e162"/>
<circle cx="1783.9" cy="295.0" r="8.6" fill="#f3e162"/>
<circle cx="1783.9" cy="324.2" r="8.6" fill="#7fd46a"/>
<circle cx="1783.9" cy="338.8" r="8.6" fill="#f3e162"/>
<circle cx="1783.9" cy="353.4" r="8.6" fill="#f3e162"/>
<circle cx="1783.9" cy="368.0" r="8.6" fill="#f3e162"/>
<circle cx="1783.9" cy="397.2" r="8.6" fill="#f3e162"/>
<circle cx="1783.9" cy="411.9" r="8.6" fill="#f3e162"/>
<circle cx="1783.9" cy="426.5" r="8.6" fill="#f3e162"/>
<circle cx="1783.9" cy="441.1" r="8.6" fill="#e68a37"/>
<circle cx="1783.9" cy="470.3" r="8.6" fill="#f3e162"/>
<circle cx="1783.9" cy="484.9" r="8.6" fill="#f3e162"/>
<circle cx="1783.9" cy="499.5" r="8.6" fill="#f3e162"/>
<circle cx="1783.9" cy="514.2" r="8.6" fill="#e68a37"/>
<circle cx="1783.9" cy="543.4" r="8.6" fill="#f3e162"/>
<circle cx="1783.9" cy="558.0" r="8.6" fill="#f3e162"/>
<circle cx="1783.9" cy="572.6" r="8.6" fill="#e68a37"/>
<circle cx="1783.9" cy="587.2" r="8.6" fill="#e68a37"/>
<circle cx="1783.9" cy="616.5" r="8.6" fill="#f3e162"/>
<circle cx="1783.9" cy="631.1" r="8.6" fill="#f3e162"/>
<circle cx="1783.9" cy="645.7" r="8.6" fill="#e68a37"/>
<circle cx="1783.9" cy="660.3" r="8.6" fill="#e68a37"/>
<circle cx="1783.9" cy="689.5" r="8.6" fill="#f3e162"/>
<circle cx="1783.9" cy="704.1" r="8.6" fill="#e68a37"/>
<circle cx="1783.9" cy="718.8" r="8.6" fill="#e68a37"/>
<circle cx="1783.9" cy="733.4" r="8.6" fill="#e68a37"/>
<circle cx="1783.9" cy="762.6" r="8.6" fill="#f3e162"/>
<circle cx="1783.9" cy="777.2" r="8.6" fill="#f3e162"/>
<circle cx="1783.9" cy="791.8" r="8.6" fill="#e68a37"/>
<circle cx="1783.9" cy="806.4" r="8.6" fill="#e68a37"/>
<circle cx="1783.9" cy="835.7" r="8.6" fill="#e68a37"/>
<circle cx="1783.9" cy="850.3" r="8.6" fill="#e68a37"/>
<circle cx="1783.9" cy="864.9" r="8.6" fill="#e68a37"/>
<circle cx="1783.9" cy="879.5" r="8.6" fill="#e68a37"/>
<circle cx="1783.9" cy="908.7" r="8.6" fill="#f3e162"/>
<circle cx="1783.9" cy="923.4" r="8.6" fill="#e68a37"/>
<circle cx="1783.9" cy="938.0" r="8.6" fill="#e68a37"/>
<circle cx="1783.9" cy="952.6" r="8.6" fill="#e44a2e"/>
<circle cx="1783.9" cy="981.8" r="8.6" fill="#e68a37"/>
<circle cx="1783.9" cy="996.4" r="8.6" fill="#e68a37"/>
<circle cx="1783.9" cy="1011.0" r="8.6" fill="#e44a2e"/>
<circle cx="1783.9" cy="1025.7" r="8.6" fill="#e44a2e"/>
</g>
<g font-family="Liberation Sans, sans-serif" font-size="17">
<text x="1801.9" y="-253.9" fill="#cfd589" stroke="#cfd589" stroke-width="0.35">scheduled</text>
<text x="1801.9" y="-239.3" fill="#cfd589" stroke="#cfd589" stroke-width="0.35">scheduled</text>
<text x="1801.9" y="-224.7" fill="#c6925f" stroke="#c6925f" stroke-width="0.35">out-of-cycle</text>
<text x="1801.9" y="-210.0" fill="#c6925f" stroke="#c6925f" stroke-width="0.35">out-of-cycle</text>
<text x="1801.9" y="-180.8" fill="#cfd589" stroke="#cfd589" stroke-width="0.35">scheduled</text>
<text x="1801.9" y="-166.2" fill="#cfd589" stroke="#cfd589" stroke-width="0.35">scheduled</text>
<text x="1801.9" y="-151.6" fill="#c6925f" stroke="#c6925f" stroke-width="0.35">out-of-cycle</text>
<text x="1801.9" y="-137.0" fill="#c6925f" stroke="#c6925f" stroke-width="0.35">out-of-cycle</text>
<text x="1801.9" y="-107.7" fill="#cfd589" stroke="#cfd589" stroke-width="0.35">scheduled</text>
<text x="1801.9" y="-93.1" fill="#cfd589" stroke="#cfd589" stroke-width="0.35">scheduled</text>
<text x="1801.9" y="-78.5" fill="#c6925f" stroke="#c6925f" stroke-width="0.35">out-of-cycle</text>
<text x="1801.9" y="-63.9" fill="#c6925f" stroke="#c6925f" stroke-width="0.35">out-of-cycle</text>
<text x="1801.9" y="-34.7" fill="#cfd589" stroke="#cfd589" stroke-width="0.35">scheduled</text>
<text x="1801.9" y="-20.1" fill="#cfd589" stroke="#cfd589" stroke-width="0.35">scheduled</text>
<text x="1801.9" y="-5.4" fill="#c6925f" stroke="#c6925f" stroke-width="0.35">out-of-cycle</text>
<text x="1801.9" y="9.2" fill="#c6925f" stroke="#c6925f" stroke-width="0.35">out-of-cycle</text>
<text x="1801.9" y="38.4" fill="#cfd589" stroke="#cfd589" stroke-width="0.35">scheduled</text>
<text x="1801.9" y="53.0" fill="#cfd589" stroke="#cfd589" stroke-width="0.35">scheduled</text>
<text x="1801.9" y="67.6" fill="#c6925f" stroke="#c6925f" stroke-width="0.35">out-of-cycle</text>
<text x="1801.9" y="82.2" fill="#c6925f" stroke="#c6925f" stroke-width="0.35">out-of-cycle</text>
<text x="1801.9" y="111.5" fill="#cfd589" stroke="#cfd589" stroke-width="0.35">scheduled</text>
<text x="1801.9" y="126.1" fill="#cfd589" stroke="#cfd589" stroke-width="0.35">scheduled</text>
<text x="1801.9" y="140.7" fill="#c6925f" stroke="#c6925f" stroke-width="0.35">out-of-cycle</text>
<text x="1801.9" y="155.3" fill="#c6925f" stroke="#c6925f" stroke-width="0.35">out-of-cycle</text>
<text x="1801.9" y="184.5" fill="#a3cf92" stroke="#a3cf92" stroke-width="0.35">defer</text>
<text x="1801.9" y="199.2" fill="#a3cf92" stroke="#a3cf92" stroke-width="0.35">defer</text>
<text x="1801.9" y="213.8" fill="#cfd589" stroke="#cfd589" stroke-width="0.35">scheduled</text>
<text x="1801.9" y="228.4" fill="#cfd589" stroke="#cfd589" stroke-width="0.35">scheduled</text>
<text x="1801.9" y="257.6" fill="#cfd589" stroke="#cfd589" stroke-width="0.35">scheduled</text>
<text x="1801.9" y="272.2" fill="#cfd589" stroke="#cfd589" stroke-width="0.35">scheduled</text>
<text x="1801.9" y="286.8" fill="#cfd589" stroke="#cfd589" stroke-width="0.35">scheduled</text>
<text x="1801.9" y="301.5" fill="#cfd589" stroke="#cfd589" stroke-width="0.35">scheduled</text>
<text x="1801.9" y="330.7" fill="#a3cf92" stroke="#a3cf92" stroke-width="0.35">defer</text>
<text x="1801.9" y="345.3" fill="#cfd589" stroke="#cfd589" stroke-width="0.35">scheduled</text>
<text x="1801.9" y="359.9" fill="#cfd589" stroke="#cfd589" stroke-width="0.35">scheduled</text>
<text x="1801.9" y="374.5" fill="#cfd589" stroke="#cfd589" stroke-width="0.35">scheduled</text>
<text x="1801.9" y="403.7" fill="#cfd589" stroke="#cfd589" stroke-width="0.35">scheduled</text>
<text x="1801.9" y="418.4" fill="#cfd589" stroke="#cfd589" stroke-width="0.35">scheduled</text>
<text x="1801.9" y="433.0" fill="#cfd589" stroke="#cfd589" stroke-width="0.35">scheduled</text>
<text x="1801.9" y="447.6" fill="#c6925f" stroke="#c6925f" stroke-width="0.35">out-of-cycle</text>
<text x="1801.9" y="476.8" fill="#cfd589" stroke="#cfd589" stroke-width="0.35">scheduled</text>
<text x="1801.9" y="491.4" fill="#cfd589" stroke="#cfd589" stroke-width="0.35">scheduled</text>
<text x="1801.9" y="506.0" fill="#cfd589" stroke="#cfd589" stroke-width="0.35">scheduled</text>
<text x="1801.9" y="520.7" fill="#c6925f" stroke="#c6925f" stroke-width="0.35">out-of-cycle</text>
<text x="1801.9" y="549.9" fill="#cfd589" stroke="#cfd589" stroke-width="0.35">scheduled</text>
<text x="1801.9" y="564.5" fill="#cfd589" stroke="#cfd589" stroke-width="0.35">scheduled</text>
<text x="1801.9" y="579.1" fill="#c6925f" stroke="#c6925f" stroke-width="0.35">out-of-cycle</text>
<text x="1801.9" y="593.7" fill="#c6925f" stroke="#c6925f" stroke-width="0.35">out-of-cycle</text>
<text x="1801.9" y="623.0" fill="#cfd589" stroke="#cfd589" stroke-width="0.35">scheduled</text>
<text x="1801.9" y="637.6" fill="#cfd589" stroke="#cfd589" stroke-width="0.35">scheduled</text>
<text x="1801.9" y="652.2" fill="#c6925f" stroke="#c6925f" stroke-width="0.35">out-of-cycle</text>
<text x="1801.9" y="666.8" fill="#c6925f" stroke="#c6925f" stroke-width="0.35">out-of-cycle</text>
<text x="1801.9" y="696.0" fill="#cfd589" stroke="#cfd589" stroke-width="0.35">scheduled</text>
<text x="1801.9" y="710.6" fill="#c6925f" stroke="#c6925f" stroke-width="0.35">out-of-cycle</text>
<text x="1801.9" y="725.3" fill="#c6925f" stroke="#c6925f" stroke-width="0.35">out-of-cycle</text>
<text x="1801.9" y="739.9" fill="#c6925f" stroke="#c6925f" stroke-width="0.35">out-of-cycle</text>
<text x="1801.9" y="769.1" fill="#cfd589" stroke="#cfd589" stroke-width="0.35">scheduled</text>
<text x="1801.9" y="783.7" fill="#cfd589" stroke="#cfd589" stroke-width="0.35">scheduled</text>
<text x="1801.9" y="798.3" fill="#c6925f" stroke="#c6925f" stroke-width="0.35">out-of-cycle</text>
<text x="1801.9" y="812.9" fill="#c6925f" stroke="#c6925f" stroke-width="0.35">out-of-cycle</text>
<text x="1801.9" y="842.2" fill="#c6925f" stroke="#c6925f" stroke-width="0.35">out-of-cycle</text>
<text x="1801.9" y="856.8" fill="#c6925f" stroke="#c6925f" stroke-width="0.35">out-of-cycle</text>
<text x="1801.9" y="871.4" fill="#c6925f" stroke="#c6925f" stroke-width="0.35">out-of-cycle</text>
<text x="1801.9" y="886.0" fill="#c6925f" stroke="#c6925f" stroke-width="0.35">out-of-cycle</text>
<text x="1801.9" y="915.2" fill="#cfd589" stroke="#cfd589" stroke-width="0.35">scheduled</text>
<text x="1801.9" y="929.9" fill="#c6925f" stroke="#c6925f" stroke-width="0.35">out-of-cycle</text>
<text x="1801.9" y="944.5" fill="#c6925f" stroke="#c6925f" stroke-width="0.35">out-of-cycle</text>
<text x="1801.9" y="959.1" fill="#b2524a" stroke="#b2524a" stroke-width="0.35">immediate</text>
<text x="1801.9" y="988.3" fill="#c6925f" stroke="#c6925f" stroke-width="0.35">out-of-cycle</text>
<text x="1801.9" y="1002.9" fill="#c6925f" stroke="#c6925f" stroke-width="0.35">out-of-cycle</text>
<text x="1801.9" y="1017.5" fill="#b2524a" stroke="#b2524a" stroke-width="0.35">immediate</text>
<text x="1801.9" y="1032.2" fill="#b2524a" stroke="#b2524a" stroke-width="0.35">immediate</text>
</g>
</g>
<rect x="606" y="794.7" width="374" height="84.3" fill="#fff"/>
<rect x="1528" y="654.4" width="392" height="85.6" fill="#fff"/>
<g fill="none" stroke="#c80000" stroke-width="6" stroke-linecap="round" stroke-linejoin="round">
<path d="M137.8,387.8 C141.8,390.1 154.0,396.2 161.9,401.3 C169.8,406.4 178.3,412.4 185.2,418.2 C192.1,424.0 198.8,430.2 203.4,436.3 C208.0,442.4 210.1,447.1 212.5,454.5 C214.9,461.9 216.6,472.8 217.6,480.4 C218.6,488.0 218.7,491.2 218.3,500.0 C217.9,508.8 216.7,522.2 215.0,533.3 C213.3,544.4 210.1,555.6 208.3,566.7 C206.5,577.8 204.8,588.9 204.0,600.0 C203.2,611.1 202.8,622.2 203.3,633.3 C203.9,644.4 204.5,655.6 207.3,666.7 C210.1,677.8 215.4,688.9 220.0,700.0 C224.6,711.1 230.6,722.2 235.0,733.3 C239.4,744.4 243.9,756.7 246.7,766.7 C249.5,776.7 249.8,785.5 251.7,793.3 C253.6,801.1 254.1,808.0 258.3,813.3 C262.5,818.6 269.2,821.9 276.7,825.0 C284.2,828.1 295.5,829.2 303.3,831.7 C311.1,834.2 317.2,835.8 323.3,840.0 C329.4,844.2 335.4,850.4 340.0,856.7 C344.6,863.0 344.8,867.8 351.0,877.8 C357.2,887.8 368.3,904.6 377.0,916.7 C385.7,928.8 394.2,941.8 403.0,950.4 C411.8,959.0 425.5,965.6 430.0,968.6"/>
<path d="M1073.6,386.5 C1077.5,395.6 1089.1,421.6 1097.0,440.8 C1104.9,460.1 1112.9,480.0 1120.8,502.0 C1128.7,524.0 1137.7,550.2 1144.4,573.0 C1151.1,595.8 1156.3,617.7 1161.0,639.0 C1165.7,660.3 1169.6,682.5 1172.8,700.6 C1176.0,718.7 1177.5,732.1 1179.9,747.8 C1182.3,763.5 1184.2,781.9 1187.0,795.0 C1189.8,808.1 1191.8,817.9 1197.0,826.7 C1202.2,835.5 1208.7,842.5 1218.0,847.8 C1227.3,853.1 1239.5,856.8 1253.0,858.3 C1266.5,859.8 1282.5,858.4 1299.0,856.6 C1315.5,854.9 1337.2,850.4 1351.9,847.8 C1366.6,845.1 1377.5,842.3 1387.0,840.7 C1396.5,839.1 1405.3,838.5 1409.0,838.0"/>
</g>
<g fill="none" stroke="#c80000" stroke-width="5.5" stroke-linejoin="round">
<rect x="430.5" y="883" width="543.5" height="178.5" rx="2"/>
<rect x="1409" y="744.5" width="489" height="149" rx="2"/>
</g>
</svg>
<span class="c r" style="left:229.1px;top:572.6px;font-size:36px;font-weight:bold;-webkit-text-stroke:0.5px;">攻</span>
<span class="c r" style="left:266.7px;top:572.6px;font-size:36px;font-weight:bold;-webkit-text-stroke:0.5px;">撃</span>
<span class="c r" style="left:302.6px;top:572.6px;font-size:36px;font-weight:bold;-webkit-text-stroke:0.5px;">が</span>
<span class="c r" style="left:340.0px;top:572.8px;font-size:36px;font-weight:bold;-webkit-text-stroke:0.5px;transform:scaleX(0.9);transform-origin:0 0;">Active</span>
<span class="c r" style="left:1184.2px;top:572.6px;font-size:36px;font-weight:bold;-webkit-text-stroke:0.5px;">攻</span>
<span class="c r" style="left:1221.7px;top:572.6px;font-size:36px;font-weight:bold;-webkit-text-stroke:0.5px;">撃</span>
<span class="c r" style="left:1257.5px;top:572.6px;font-size:36px;font-weight:bold;-webkit-text-stroke:0.5px;">が</span>
<span class="c r" style="left:1295.0px;top:572.8px;font-size:36px;font-weight:bold;-webkit-text-stroke:0.5px;transform:scaleX(0.9);transform-origin:0 0;">Active</span>
<span class="c r" style="left:104.0px;top:906.0px;font-size:36px;font-weight:bold;-webkit-text-stroke:0.5px;">イ</span>
<span class="c r" style="left:132.1px;top:906.0px;font-size:36px;font-weight:bold;-webkit-text-stroke:0.5px;">ン</span>
<span class="c r" style="left:164.4px;top:906.0px;font-size:36px;font-weight:bold;-webkit-text-stroke:0.5px;">タ</span>
<span class="c r" style="left:195.8px;top:906.0px;font-size:36px;font-weight:bold;-webkit-text-stroke:0.5px;">ー</span>
<span class="c r" style="left:231.8px;top:906.0px;font-size:36px;font-weight:bold;-webkit-text-stroke:0.5px;">ネ</span>
<span class="c r" style="left:263.4px;top:906.0px;font-size:36px;font-weight:bold;-webkit-text-stroke:0.5px;">ッ</span>
<span class="c r" style="left:287.6px;top:906.0px;font-size:36px;font-weight:bold;-webkit-text-stroke:0.5px;">ト</span>
<span class="c r" style="left:320.5px;top:906.0px;font-size:36px;font-weight:bold;-webkit-text-stroke:0.5px;">に</span>
<span class="c r" style="left:106.3px;top:960.0px;font-size:36px;font-weight:bold;-webkit-text-stroke:0.5px;">公</span>
<span class="c r" style="left:143.6px;top:960.0px;font-size:36px;font-weight:bold;-webkit-text-stroke:0.5px;">開</span>
<span class="c r" style="left:625.9px;top:817.8px;font-size:36px;font-weight:bold;-webkit-text-stroke:0.5px;">即</span>
<span class="c r" style="left:661.8px;top:817.8px;font-size:36px;font-weight:bold;-webkit-text-stroke:0.5px;">時</span>
<span class="c r" style="left:699.6px;top:817.8px;font-size:36px;font-weight:bold;-webkit-text-stroke:0.5px;">対</span>
<span class="c r" style="left:736.2px;top:817.8px;font-size:36px;font-weight:bold;-webkit-text-stroke:0.5px;">応</span>
<span class="c r" style="left:773.2px;top:817.8px;font-size:36px;font-weight:bold;-webkit-text-stroke:0.5px;">が</span>
<span class="c r" style="left:811.0px;top:817.8px;font-size:36px;font-weight:bold;-webkit-text-stroke:0.5px;">必</span>
<span class="c r" style="left:847.8px;top:817.8px;font-size:36px;font-weight:bold;-webkit-text-stroke:0.5px;">要</span>
<span class="c r" style="left:1545.6px;top:679.8px;font-size:36px;font-weight:bold;-webkit-text-stroke:0.5px;">な</span>
<span class="c r" style="left:1578.1px;top:679.8px;font-size:36px;font-weight:bold;-webkit-text-stroke:0.5px;">る</span>
<span class="c r" style="left:1612.9px;top:679.8px;font-size:36px;font-weight:bold;-webkit-text-stroke:0.5px;">早</span>
<span class="c r" style="left:1651.0px;top:679.8px;font-size:36px;font-weight:bold;-webkit-text-stroke:0.5px;">対</span>
<span class="c r" style="left:1687.2px;top:679.8px;font-size:36px;font-weight:bold;-webkit-text-stroke:0.5px;">応</span>
<span class="c r" style="left:1722.2px;top:679.8px;font-size:36px;font-weight:bold;-webkit-text-stroke:0.5px;">で</span>
<span class="c r" style="left:1758.6px;top:679.0px;font-size:36px;font-weight:bold;-webkit-text-stroke:0.5px;transform:scaleX(0.9);transform-origin:0 0;">OK</span>
<span class="c r" style="left:1177.8px;top:909.8px;font-size:36px;font-weight:bold;-webkit-text-stroke:0.5px;">社</span>
<span class="c r" style="left:1215.1px;top:909.8px;font-size:36px;font-weight:bold;-webkit-text-stroke:0.5px;">内</span>
<span class="c r" style="left:1250.0px;top:909.8px;font-size:36px;font-weight:bold;-webkit-text-stroke:0.5px;">シ</span>
<span class="c r" style="left:1284.5px;top:909.8px;font-size:36px;font-weight:bold;-webkit-text-stroke:0.5px;">ス</span>
<span class="c r" style="left:1317.2px;top:909.8px;font-size:36px;font-weight:bold;-webkit-text-stroke:0.5px;">テ</span>
<span class="c r" style="left:1351.7px;top:909.8px;font-size:36px;font-weight:bold;-webkit-text-stroke:0.5px;">ム</span>
<div class="t foot" style="left:1393px;top:1052px">Copyright © 2024 by Future&nbsp; Corporation</div>
<div class="t foot" style="left:1871px;top:1052px;font-style:normal">45</div>
<div class="dash" style="left:1855px"></div><div class="dash" style="left:1899px"></div>
</body></html>
